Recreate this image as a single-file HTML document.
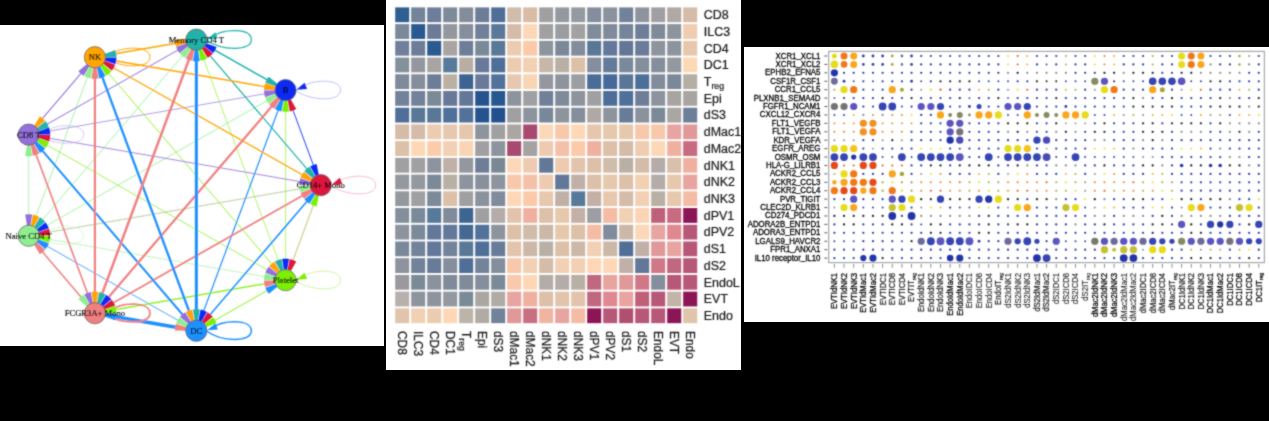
<!DOCTYPE html>
<html><head><meta charset="utf-8"><style>
html,body{margin:0;padding:0;background:#000;}
body{width:1269px;height:421px;overflow:hidden;}
svg{display:block;}
</style></head><body>
<svg width="1269" height="421" viewBox="0 0 1269 421">
<defs><filter id="soft" x="0" y="0" width="1269" height="421" filterUnits="userSpaceOnUse"><feConvolveMatrix order="3" kernelMatrix="1 2 1 2 10 2 1 2 1" divisor="22" edgeMode="none" preserveAlpha="false"/></filter></defs>
<rect width="1269" height="421" fill="#000"/>
<rect x="0" y="25" width="384" height="321" fill="#fff"/>
<rect x="386" y="0" width="355" height="370" fill="#fff"/>
<rect x="744" y="47" width="525" height="275" fill="#fff"/>
<g filter="url(#soft)">
<g stroke-linecap="butt" fill="none">
<line x1="320.8" y1="185.2" x2="28.68" y2="235.75" stroke="#dc143c" stroke-width="0.35" stroke-opacity="0.8"/>
<line x1="320.8" y1="185.2" x2="285.57" y2="280.2" stroke="#dc143c" stroke-width="0.4" stroke-opacity="0.8"/>
<line x1="285.57" y1="280.2" x2="320.8" y2="185.2" stroke="#7cf000" stroke-width="0.5" stroke-opacity="0.8"/>
<line x1="28.68" y1="235.75" x2="320.8" y2="185.2" stroke="#90ee90" stroke-width="0.6" stroke-opacity="1"/>
<line x1="28.68" y1="235.75" x2="285.57" y2="280.2" stroke="#90ee90" stroke-width="0.6" stroke-opacity="1"/>
<line x1="285.57" y1="280.2" x2="285.57" y2="90.2" stroke="#7cf000" stroke-width="0.6" stroke-opacity="1"/>
<line x1="285.57" y1="280.2" x2="196.35" y2="39.65" stroke="#7cf000" stroke-width="0.6" stroke-opacity="1"/>
<line x1="28.68" y1="134.65" x2="285.57" y2="90.2" stroke="#9370db" stroke-width="0.7" stroke-opacity="1"/>
<line x1="28.68" y1="235.75" x2="28.68" y2="134.65" stroke="#90ee90" stroke-width="0.7" stroke-opacity="1"/>
<line x1="285.57" y1="280.2" x2="28.68" y2="134.65" stroke="#7cf000" stroke-width="0.7" stroke-opacity="1"/>
<line x1="196.35" y1="330.75" x2="28.68" y2="235.75" stroke="#1e90ff" stroke-width="0.8" stroke-opacity="1"/>
<line x1="28.68" y1="235.75" x2="285.57" y2="90.2" stroke="#90ee90" stroke-width="0.8" stroke-opacity="1"/>
<line x1="28.68" y1="235.75" x2="196.35" y2="39.65" stroke="#90ee90" stroke-width="0.8" stroke-opacity="1"/>
<line x1="28.68" y1="235.75" x2="94.9" y2="57.2" stroke="#90ee90" stroke-width="0.8" stroke-opacity="1"/>
<line x1="285.57" y1="280.2" x2="94.9" y2="57.2" stroke="#7cf000" stroke-width="0.8" stroke-opacity="1"/>
<line x1="28.68" y1="134.65" x2="320.8" y2="185.2" stroke="#9370db" stroke-width="0.85" stroke-opacity="1"/>
<line x1="285.57" y1="90.2" x2="320.8" y2="185.2" stroke="#0a2cf5" stroke-width="0.9" stroke-opacity="1"/>
<line x1="285.57" y1="280.2" x2="196.35" y2="330.75" stroke="#7cf000" stroke-width="0.9" stroke-opacity="1"/>
<line x1="28.68" y1="134.65" x2="196.35" y2="39.65" stroke="#9370db" stroke-width="1.05" stroke-opacity="1"/>
<line x1="28.68" y1="134.65" x2="94.9" y2="57.2" stroke="#9370db" stroke-width="1.05" stroke-opacity="1"/>
<line x1="196.35" y1="330.75" x2="285.57" y2="90.2" stroke="#1e90ff" stroke-width="1.2" stroke-opacity="1"/>
<line x1="196.35" y1="39.65" x2="320.8" y2="185.2" stroke="#20b2aa" stroke-width="1.2" stroke-opacity="1"/>
<line x1="94.9" y1="57.2" x2="320.8" y2="185.2" stroke="#ffa500" stroke-width="1.3" stroke-opacity="1"/>
<line x1="285.57" y1="280.2" x2="94.9" y2="313.2" stroke="#7cf000" stroke-width="1.3" stroke-opacity="1"/>
<line x1="94.9" y1="57.2" x2="285.57" y2="90.2" stroke="#ffa500" stroke-width="1.4" stroke-opacity="1"/>
<line x1="196.35" y1="330.75" x2="320.8" y2="185.2" stroke="#1e90ff" stroke-width="1.5" stroke-opacity="1"/>
<line x1="94.9" y1="313.2" x2="28.68" y2="235.75" stroke="#f08080" stroke-width="1.5" stroke-opacity="1"/>
<line x1="196.35" y1="39.65" x2="285.57" y2="90.2" stroke="#20b2aa" stroke-width="1.5" stroke-opacity="1"/>
<line x1="94.9" y1="57.2" x2="196.35" y2="39.65" stroke="#ffa500" stroke-width="1.5" stroke-opacity="1"/>
<line x1="94.9" y1="313.2" x2="28.68" y2="134.65" stroke="#f08080" stroke-width="1.6" stroke-opacity="1"/>
<line x1="94.9" y1="313.2" x2="320.8" y2="185.2" stroke="#f08080" stroke-width="1.8" stroke-opacity="1"/>
<line x1="196.35" y1="330.75" x2="28.68" y2="134.65" stroke="#1e90ff" stroke-width="2" stroke-opacity="1"/>
<line x1="94.9" y1="313.2" x2="285.57" y2="90.2" stroke="#f08080" stroke-width="2.2" stroke-opacity="1"/>
<line x1="94.9" y1="313.2" x2="94.9" y2="57.2" stroke="#f08080" stroke-width="2.2" stroke-opacity="1"/>
<line x1="196.35" y1="330.75" x2="94.9" y2="57.2" stroke="#1e90ff" stroke-width="2.3" stroke-opacity="1"/>
<line x1="94.9" y1="313.2" x2="196.35" y2="39.65" stroke="#f08080" stroke-width="2.5" stroke-opacity="1"/>
<line x1="196.35" y1="330.75" x2="196.35" y2="39.65" stroke="#1e90ff" stroke-width="3" stroke-opacity="1"/>
<line x1="196.35" y1="330.75" x2="94.9" y2="313.2" stroke="#1e90ff" stroke-width="3.5" stroke-opacity="1"/>
<path d="M331.3,185.7 C345.8,196.2 375.8,197.2 375.8,185.2 C375.8,173.2 347.8,174.2 336.8,182.2" stroke="#f0a0b0" stroke-width="0.7"/>
<path d="M296.07,90.7 C310.57,101.2 340.57,102.2 340.57,90.2 C340.57,78.2 312.57,79.2 301.57,87.2" stroke="#a0a8f8" stroke-width="0.7"/>
<path d="M206.85,40.15 C221.35,50.65 251.35,51.65 251.35,39.65 C251.35,27.65 223.35,28.65 212.35,36.65" stroke="#20b2aa" stroke-width="1.2"/>
<path d="M105.4,57.7 C119.9,68.2 149.9,69.2 149.9,57.2 C149.9,45.2 121.9,46.2 110.9,54.2" stroke="#ffa500" stroke-width="1"/>
<path d="M39.18,135.15 C53.68,145.65 83.68,146.65 83.68,134.65 C83.68,122.65 55.68,123.65 44.68,131.65" stroke="#b8a8e8" stroke-width="0.6"/>
<path d="M39.18,236.25 C53.68,246.75 83.68,247.75 83.68,235.75 C83.68,223.75 55.68,224.75 44.68,232.75" stroke="#c0f0c0" stroke-width="0.6"/>
<path d="M105.4,313.7 C119.9,324.2 149.9,325.2 149.9,313.2 C149.9,301.2 121.9,302.2 110.9,310.2" stroke="#f08080" stroke-width="1.8"/>
<path d="M206.85,331.25 C221.35,341.75 251.35,342.75 251.35,330.75 C251.35,318.75 223.35,319.75 212.35,327.75" stroke="#1e90ff" stroke-width="1.5"/>
<path d="M296.07,280.7 C310.57,291.2 340.57,292.2 340.57,280.2 C340.57,268.2 312.57,269.2 301.57,277.2" stroke="#b8f080" stroke-width="0.7"/>
</g>
<polygon points="331.6,184.7 339.8,177.7 342.3,184" fill="#dc143c"/>
<polygon points="296.37,89.7 304.57,82.7 307.07,89" fill="#0a2cf5"/>
<polygon points="207.15,39.15 215.35,32.15 217.85,38.45" fill="#20b2aa"/>
<polygon points="105.7,56.7 113.9,49.7 116.4,56" fill="#ffa500"/>
<polygon points="39.48,134.15 47.68,127.15 50.18,133.45" fill="#9370db"/>
<polygon points="39.48,235.25 47.68,228.25 50.18,234.55" fill="#90ee90"/>
<polygon points="105.7,312.7 113.9,305.7 116.4,312" fill="#f08080"/>
<polygon points="207.15,330.25 215.35,323.25 217.85,329.55" fill="#1e90ff"/>
<polygon points="296.37,279.7 304.57,272.7 307.07,279" fill="#7cf000"/>
<path d="M320.8,185.2 L310.12,166.43 A21.6,21.6 0 0 1 316.66,164 Z" fill="#0a2cf5"/>
<path d="M320.8,185.2 L304.29,171.27 A21.6,21.6 0 0 1 309.6,166.73 Z" fill="#20b2aa"/>
<path d="M320.8,185.2 L300.53,177.73 A21.6,21.6 0 0 1 303.97,171.65 Z" fill="#ffa500"/>
<path d="M320.8,185.2 L299.2,185 A21.6,21.6 0 0 1 300.39,178.13 Z" fill="#9370db"/>
<path d="M320.8,185.2 L300.39,192.27 A21.6,21.6 0 0 1 299.2,185.4 Z" fill="#90ee90"/>
<path d="M320.8,185.2 L303.97,198.75 A21.6,21.6 0 0 1 300.53,192.67 Z" fill="#f08080"/>
<path d="M320.8,185.2 L309.6,203.67 A21.6,21.6 0 0 1 304.29,199.13 Z" fill="#1e90ff"/>
<path d="M320.8,185.2 L316.66,206.4 A21.6,21.6 0 0 1 310.12,203.97 Z" fill="#7cf000"/>
<path d="M285.57,90.2 L296.25,108.97 A21.6,21.6 0 0 1 289.71,111.4 Z" fill="#dc143c"/>
<path d="M285.57,90.2 L265.3,82.72 A21.6,21.6 0 0 1 268.74,76.65 Z" fill="#20b2aa"/>
<path d="M285.57,90.2 L263.97,90 A21.6,21.6 0 0 1 265.16,83.12 Z" fill="#ffa500"/>
<path d="M285.57,90.2 L265.16,97.27 A21.6,21.6 0 0 1 263.97,90.39 Z" fill="#9370db"/>
<path d="M285.57,90.2 L268.74,103.74 A21.6,21.6 0 0 1 265.3,97.67 Z" fill="#90ee90"/>
<path d="M285.57,90.2 L274.37,108.67 A21.6,21.6 0 0 1 269.06,104.13 Z" fill="#f08080"/>
<path d="M285.57,90.2 L281.43,111.4 A21.6,21.6 0 0 1 274.88,108.97 Z" fill="#1e90ff"/>
<path d="M285.57,90.2 L289.06,111.51 A21.6,21.6 0 0 1 282.08,111.51 Z" fill="#7cf000"/>
<path d="M196.35,39.65 L212.86,53.58 A21.6,21.6 0 0 1 207.55,58.12 Z" fill="#dc143c"/>
<path d="M196.35,39.65 L216.62,47.12 A21.6,21.6 0 0 1 213.18,53.19 Z" fill="#0a2cf5"/>
<path d="M196.35,39.65 L175.94,46.72 A21.6,21.6 0 0 1 174.75,39.84 Z" fill="#ffa500"/>
<path d="M196.35,39.65 L179.53,53.19 A21.6,21.6 0 0 1 176.08,47.12 Z" fill="#9370db"/>
<path d="M196.35,39.65 L185.15,58.12 A21.6,21.6 0 0 1 179.85,53.58 Z" fill="#90ee90"/>
<path d="M196.35,39.65 L192.21,60.85 A21.6,21.6 0 0 1 185.67,58.42 Z" fill="#f08080"/>
<path d="M196.35,39.65 L199.84,60.96 A21.6,21.6 0 0 1 192.86,60.96 Z" fill="#1e90ff"/>
<path d="M196.35,39.65 L207.04,58.42 A21.6,21.6 0 0 1 200.49,60.85 Z" fill="#7cf000"/>
<path d="M94.9,57.2 L115.17,64.67 A21.6,21.6 0 0 1 111.73,70.75 Z" fill="#dc143c"/>
<path d="M94.9,57.2 L116.5,57.4 A21.6,21.6 0 0 1 115.31,64.28 Z" fill="#0a2cf5"/>
<path d="M94.9,57.2 L115.31,50.13 A21.6,21.6 0 0 1 116.5,57.01 Z" fill="#20b2aa"/>
<path d="M94.9,57.2 L83.7,75.67 A21.6,21.6 0 0 1 78.39,71.13 Z" fill="#9370db"/>
<path d="M94.9,57.2 L90.76,78.4 A21.6,21.6 0 0 1 84.22,75.97 Z" fill="#90ee90"/>
<path d="M94.9,57.2 L98.39,78.52 A21.6,21.6 0 0 1 91.41,78.52 Z" fill="#f08080"/>
<path d="M94.9,57.2 L105.58,75.97 A21.6,21.6 0 0 1 99.04,78.4 Z" fill="#1e90ff"/>
<path d="M94.9,57.2 L111.41,71.13 A21.6,21.6 0 0 1 106.1,75.67 Z" fill="#7cf000"/>
<path d="M28.68,134.65 L50.28,134.84 A21.6,21.6 0 0 1 49.09,141.72 Z" fill="#dc143c"/>
<path d="M28.68,134.65 L49.09,127.58 A21.6,21.6 0 0 1 50.28,134.45 Z" fill="#0a2cf5"/>
<path d="M28.68,134.65 L45.51,121.1 A21.6,21.6 0 0 1 48.95,127.18 Z" fill="#20b2aa"/>
<path d="M28.68,134.65 L39.88,116.18 A21.6,21.6 0 0 1 45.19,120.72 Z" fill="#ffa500"/>
<path d="M28.68,134.65 L32.17,155.97 A21.6,21.6 0 0 1 25.19,155.97 Z" fill="#90ee90"/>
<path d="M28.68,134.65 L39.37,153.42 A21.6,21.6 0 0 1 32.82,155.85 Z" fill="#f08080"/>
<path d="M28.68,134.65 L45.19,148.58 A21.6,21.6 0 0 1 39.88,153.12 Z" fill="#1e90ff"/>
<path d="M28.68,134.65 L48.95,142.12 A21.6,21.6 0 0 1 45.51,148.19 Z" fill="#7cf000"/>
<path d="M28.68,235.75 L49.09,228.68 A21.6,21.6 0 0 1 50.28,235.56 Z" fill="#dc143c"/>
<path d="M28.68,235.75 L45.51,222.21 A21.6,21.6 0 0 1 48.95,228.28 Z" fill="#0a2cf5"/>
<path d="M28.68,235.75 L39.88,217.28 A21.6,21.6 0 0 1 45.19,221.82 Z" fill="#20b2aa"/>
<path d="M28.68,235.75 L32.82,214.55 A21.6,21.6 0 0 1 39.37,216.98 Z" fill="#ffa500"/>
<path d="M28.68,235.75 L25.19,214.43 A21.6,21.6 0 0 1 32.17,214.43 Z" fill="#9370db"/>
<path d="M28.68,235.75 L45.19,249.68 A21.6,21.6 0 0 1 39.88,254.22 Z" fill="#f08080"/>
<path d="M28.68,235.75 L48.95,243.22 A21.6,21.6 0 0 1 45.51,249.3 Z" fill="#1e90ff"/>
<path d="M28.68,235.75 L50.28,235.95 A21.6,21.6 0 0 1 49.09,242.82 Z" fill="#7cf000"/>
<path d="M94.9,313.2 L111.73,299.65 A21.6,21.6 0 0 1 115.17,305.73 Z" fill="#dc143c"/>
<path d="M94.9,313.2 L106.1,294.73 A21.6,21.6 0 0 1 111.41,299.27 Z" fill="#0a2cf5"/>
<path d="M94.9,313.2 L99.04,292 A21.6,21.6 0 0 1 105.58,294.43 Z" fill="#20b2aa"/>
<path d="M94.9,313.2 L91.41,291.88 A21.6,21.6 0 0 1 98.39,291.88 Z" fill="#ffa500"/>
<path d="M94.9,313.2 L84.22,294.43 A21.6,21.6 0 0 1 90.76,292 Z" fill="#9370db"/>
<path d="M94.9,313.2 L78.39,299.27 A21.6,21.6 0 0 1 83.7,294.73 Z" fill="#90ee90"/>
<path d="M94.9,313.2 L116.5,313.39 A21.6,21.6 0 0 1 115.31,320.27 Z" fill="#1e90ff"/>
<path d="M94.9,313.2 L115.31,306.12 A21.6,21.6 0 0 1 116.5,313 Z" fill="#7cf000"/>
<path d="M196.35,330.75 L207.55,312.28 A21.6,21.6 0 0 1 212.86,316.82 Z" fill="#dc143c"/>
<path d="M196.35,330.75 L200.49,309.55 A21.6,21.6 0 0 1 207.04,311.98 Z" fill="#0a2cf5"/>
<path d="M196.35,330.75 L192.86,309.44 A21.6,21.6 0 0 1 199.84,309.44 Z" fill="#20b2aa"/>
<path d="M196.35,330.75 L185.67,311.98 A21.6,21.6 0 0 1 192.21,309.55 Z" fill="#ffa500"/>
<path d="M196.35,330.75 L179.85,316.82 A21.6,21.6 0 0 1 185.15,312.28 Z" fill="#9370db"/>
<path d="M196.35,330.75 L176.08,323.28 A21.6,21.6 0 0 1 179.53,317.21 Z" fill="#90ee90"/>
<path d="M196.35,330.75 L174.75,330.56 A21.6,21.6 0 0 1 175.94,323.68 Z" fill="#f08080"/>
<path d="M196.35,330.75 L213.18,317.21 A21.6,21.6 0 0 1 216.62,323.28 Z" fill="#7cf000"/>
<path d="M285.57,280.2 L289.71,259 A21.6,21.6 0 0 1 296.25,261.43 Z" fill="#dc143c"/>
<path d="M285.57,280.2 L282.08,258.89 A21.6,21.6 0 0 1 289.06,258.89 Z" fill="#0a2cf5"/>
<path d="M285.57,280.2 L274.88,261.43 A21.6,21.6 0 0 1 281.43,259 Z" fill="#20b2aa"/>
<path d="M285.57,280.2 L269.06,266.27 A21.6,21.6 0 0 1 274.37,261.73 Z" fill="#ffa500"/>
<path d="M285.57,280.2 L265.3,272.73 A21.6,21.6 0 0 1 268.74,266.66 Z" fill="#9370db"/>
<path d="M285.57,280.2 L263.97,280.01 A21.6,21.6 0 0 1 265.16,273.13 Z" fill="#90ee90"/>
<path d="M285.57,280.2 L265.16,287.28 A21.6,21.6 0 0 1 263.97,280.4 Z" fill="#f08080"/>
<path d="M285.57,280.2 L268.74,293.75 A21.6,21.6 0 0 1 265.3,287.68 Z" fill="#1e90ff"/>
<circle cx="320.8" cy="185.2" r="10.6" fill="#dc143c" stroke="#555" stroke-width="0.7"/>
<circle cx="285.57" cy="90.2" r="10.6" fill="#0a2cf5" stroke="#555" stroke-width="0.7"/>
<circle cx="196.35" cy="39.65" r="10.6" fill="#20b2aa" stroke="#555" stroke-width="0.7"/>
<circle cx="94.9" cy="57.2" r="10.6" fill="#ffa500" stroke="#555" stroke-width="0.7"/>
<circle cx="28.68" cy="134.65" r="10.6" fill="#9370db" stroke="#555" stroke-width="0.7"/>
<circle cx="28.68" cy="235.75" r="10.6" fill="#90ee90" stroke="#555" stroke-width="0.7"/>
<circle cx="94.9" cy="313.2" r="10.6" fill="#f08080" stroke="#555" stroke-width="0.7"/>
<circle cx="196.35" cy="330.75" r="10.6" fill="#1e90ff" stroke="#555" stroke-width="0.7"/>
<circle cx="285.57" cy="280.2" r="10.6" fill="#7cf000" stroke="#555" stroke-width="0.7"/>
<text x="320.8" y="188.2" text-anchor="middle" font-family="Liberation Serif" font-size="8.6" fill="#000" stroke="#000" stroke-width="0.15">CD14+ Mono</text>
<text x="285.57" y="93.2" text-anchor="middle" font-family="Liberation Serif" font-size="8.6" fill="#000" stroke="#000" stroke-width="0.15">B</text>
<text x="196.35" y="42.65" text-anchor="middle" font-family="Liberation Serif" font-size="8.6" fill="#000" stroke="#000" stroke-width="0.15">Memory CD4 T</text>
<text x="94.9" y="60.2" text-anchor="middle" font-family="Liberation Serif" font-size="8.6" fill="#000" stroke="#000" stroke-width="0.15">NK</text>
<text x="28.68" y="137.65" text-anchor="middle" font-family="Liberation Serif" font-size="8.6" fill="#000" stroke="#000" stroke-width="0.15">CD8 T</text>
<text x="28.68" y="238.75" text-anchor="middle" font-family="Liberation Serif" font-size="8.6" fill="#000" stroke="#000" stroke-width="0.15">Naive CD4 T</text>
<text x="94.9" y="316.2" text-anchor="middle" font-family="Liberation Serif" font-size="8.6" fill="#000" stroke="#000" stroke-width="0.15">FCGR3A+ Mono</text>
<text x="196.35" y="333.75" text-anchor="middle" font-family="Liberation Serif" font-size="8.6" fill="#000" stroke="#000" stroke-width="0.15">DC</text>
<text x="285.57" y="283.2" text-anchor="middle" font-family="Liberation Serif" font-size="8.6" fill="#000" stroke="#000" stroke-width="0.15">Platelet</text>
<rect x="395.2" y="7.4" width="14" height="14.8" fill="#2f5f90"/>
<rect x="411.2" y="7.4" width="14" height="14.8" fill="#72839a"/>
<rect x="427.2" y="7.4" width="14" height="14.8" fill="#6e7e9a"/>
<rect x="443.2" y="7.4" width="14" height="14.8" fill="#7d8a9a"/>
<rect x="459.2" y="7.4" width="14" height="14.8" fill="#838c9a"/>
<rect x="475.2" y="7.4" width="14" height="14.8" fill="#6d7d98"/>
<rect x="491.2" y="7.4" width="14" height="14.8" fill="#4f6e98"/>
<rect x="507.2" y="7.4" width="14" height="14.8" fill="#d0bcaa"/>
<rect x="523.2" y="7.4" width="14" height="14.8" fill="#d8bca5"/>
<rect x="539.2" y="7.4" width="14" height="14.8" fill="#a0a0a0"/>
<rect x="555.2" y="7.4" width="14" height="14.8" fill="#9499a0"/>
<rect x="571.2" y="7.4" width="14" height="14.8" fill="#959aa2"/>
<rect x="587.2" y="7.4" width="14" height="14.8" fill="#848e9c"/>
<rect x="603.2" y="7.4" width="14" height="14.8" fill="#8a929e"/>
<rect x="619.2" y="7.4" width="14" height="14.8" fill="#72829a"/>
<rect x="635.2" y="7.4" width="14" height="14.8" fill="#8e949e"/>
<rect x="651.2" y="7.4" width="14" height="14.8" fill="#a0a0a4"/>
<rect x="667.2" y="7.4" width="14" height="14.8" fill="#b0a8a5"/>
<rect x="683.2" y="7.4" width="14" height="14.8" fill="#d4bca8"/>
<rect x="395.2" y="24.12" width="14" height="14.8" fill="#7a889a"/>
<rect x="411.2" y="24.12" width="14" height="14.8" fill="#2a5890"/>
<rect x="427.2" y="24.12" width="14" height="14.8" fill="#6c7c98"/>
<rect x="443.2" y="24.12" width="14" height="14.8" fill="#94979e"/>
<rect x="459.2" y="24.12" width="14" height="14.8" fill="#848e9c"/>
<rect x="475.2" y="24.12" width="14" height="14.8" fill="#717f98"/>
<rect x="491.2" y="24.12" width="14" height="14.8" fill="#5a7898"/>
<rect x="507.2" y="24.12" width="14" height="14.8" fill="#d4bca8"/>
<rect x="523.2" y="24.12" width="14" height="14.8" fill="#fcd8b8"/>
<rect x="539.2" y="24.12" width="14" height="14.8" fill="#a0a0a2"/>
<rect x="555.2" y="24.12" width="14" height="14.8" fill="#9a9ca0"/>
<rect x="571.2" y="24.12" width="14" height="14.8" fill="#a2a2a2"/>
<rect x="587.2" y="24.12" width="14" height="14.8" fill="#818c9a"/>
<rect x="603.2" y="24.12" width="14" height="14.8" fill="#7f8a9a"/>
<rect x="619.2" y="24.12" width="14" height="14.8" fill="#75849a"/>
<rect x="635.2" y="24.12" width="14" height="14.8" fill="#6e7e98"/>
<rect x="651.2" y="24.12" width="14" height="14.8" fill="#7f8a98"/>
<rect x="667.2" y="24.12" width="14" height="14.8" fill="#8e949e"/>
<rect x="683.2" y="24.12" width="14" height="14.8" fill="#f0cdb0"/>
<rect x="395.2" y="40.84" width="14" height="14.8" fill="#70809a"/>
<rect x="411.2" y="40.84" width="14" height="14.8" fill="#6d7d98"/>
<rect x="427.2" y="40.84" width="14" height="14.8" fill="#2a5a8f"/>
<rect x="443.2" y="40.84" width="14" height="14.8" fill="#a8a4a2"/>
<rect x="459.2" y="40.84" width="14" height="14.8" fill="#6e7e9a"/>
<rect x="475.2" y="40.84" width="14" height="14.8" fill="#7a8a96"/>
<rect x="491.2" y="40.84" width="14" height="14.8" fill="#5a7898"/>
<rect x="507.2" y="40.84" width="14" height="14.8" fill="#ecccb0"/>
<rect x="523.2" y="40.84" width="14" height="14.8" fill="#fccaa8"/>
<rect x="539.2" y="40.84" width="14" height="14.8" fill="#8c949e"/>
<rect x="555.2" y="40.84" width="14" height="14.8" fill="#7a889a"/>
<rect x="571.2" y="40.84" width="14" height="14.8" fill="#838d9b"/>
<rect x="587.2" y="40.84" width="14" height="14.8" fill="#587896"/>
<rect x="603.2" y="40.84" width="14" height="14.8" fill="#63789a"/>
<rect x="619.2" y="40.84" width="14" height="14.8" fill="#637696"/>
<rect x="635.2" y="40.84" width="14" height="14.8" fill="#6a7b98"/>
<rect x="651.2" y="40.84" width="14" height="14.8" fill="#8e949e"/>
<rect x="667.2" y="40.84" width="14" height="14.8" fill="#8e949e"/>
<rect x="683.2" y="40.84" width="14" height="14.8" fill="#e8c8ac"/>
<rect x="395.2" y="57.56" width="14" height="14.8" fill="#84909c"/>
<rect x="411.2" y="57.56" width="14" height="14.8" fill="#94979f"/>
<rect x="427.2" y="57.56" width="14" height="14.8" fill="#a8a4a2"/>
<rect x="443.2" y="57.56" width="14" height="14.8" fill="#587a9a"/>
<rect x="459.2" y="57.56" width="14" height="14.8" fill="#b8aea4"/>
<rect x="475.2" y="57.56" width="14" height="14.8" fill="#67799a"/>
<rect x="491.2" y="57.56" width="14" height="14.8" fill="#4f6e98"/>
<rect x="507.2" y="57.56" width="14" height="14.8" fill="#ecccb0"/>
<rect x="523.2" y="57.56" width="14" height="14.8" fill="#f2d0b4"/>
<rect x="539.2" y="57.56" width="14" height="14.8" fill="#c8b6a8"/>
<rect x="555.2" y="57.56" width="14" height="14.8" fill="#b8b0a5"/>
<rect x="571.2" y="57.56" width="14" height="14.8" fill="#dcc0a8"/>
<rect x="587.2" y="57.56" width="14" height="14.8" fill="#848e9c"/>
<rect x="603.2" y="57.56" width="14" height="14.8" fill="#637a98"/>
<rect x="619.2" y="57.56" width="14" height="14.8" fill="#79889a"/>
<rect x="635.2" y="57.56" width="14" height="14.8" fill="#848e9c"/>
<rect x="651.2" y="57.56" width="14" height="14.8" fill="#848e9c"/>
<rect x="667.2" y="57.56" width="14" height="14.8" fill="#94989f"/>
<rect x="683.2" y="57.56" width="14" height="14.8" fill="#fdd8b5"/>
<rect x="395.2" y="74.28" width="14" height="14.8" fill="#7f8a9a"/>
<rect x="411.2" y="74.28" width="14" height="14.8" fill="#858e9b"/>
<rect x="427.2" y="74.28" width="14" height="14.8" fill="#6d7d98"/>
<rect x="443.2" y="74.28" width="14" height="14.8" fill="#bcb0a5"/>
<rect x="459.2" y="74.28" width="14" height="14.8" fill="#3c6492"/>
<rect x="475.2" y="74.28" width="14" height="14.8" fill="#6a7a98"/>
<rect x="491.2" y="74.28" width="14" height="14.8" fill="#52729a"/>
<rect x="507.2" y="74.28" width="14" height="14.8" fill="#e6c8b0"/>
<rect x="523.2" y="74.28" width="14" height="14.8" fill="#f8d5b5"/>
<rect x="539.2" y="74.28" width="14" height="14.8" fill="#9497a0"/>
<rect x="555.2" y="74.28" width="14" height="14.8" fill="#8e949e"/>
<rect x="571.2" y="74.28" width="14" height="14.8" fill="#9c9ea2"/>
<rect x="587.2" y="74.28" width="14" height="14.8" fill="#4c6c96"/>
<rect x="603.2" y="74.28" width="14" height="14.8" fill="#46699a"/>
<rect x="619.2" y="74.28" width="14" height="14.8" fill="#5a7696"/>
<rect x="635.2" y="74.28" width="14" height="14.8" fill="#4e6e98"/>
<rect x="651.2" y="74.28" width="14" height="14.8" fill="#828c9a"/>
<rect x="667.2" y="74.28" width="14" height="14.8" fill="#7a889a"/>
<rect x="683.2" y="74.28" width="14" height="14.8" fill="#b5aea4"/>
<rect x="395.2" y="91" width="14" height="14.8" fill="#72829a"/>
<rect x="411.2" y="91" width="14" height="14.8" fill="#72829a"/>
<rect x="427.2" y="91" width="14" height="14.8" fill="#7a8a96"/>
<rect x="443.2" y="91" width="14" height="14.8" fill="#677898"/>
<rect x="459.2" y="91" width="14" height="14.8" fill="#647898"/>
<rect x="475.2" y="91" width="14" height="14.8" fill="#25528e"/>
<rect x="491.2" y="91" width="14" height="14.8" fill="#285890"/>
<rect x="507.2" y="91" width="14" height="14.8" fill="#8e949e"/>
<rect x="523.2" y="91" width="14" height="14.8" fill="#a0a0a2"/>
<rect x="539.2" y="91" width="14" height="14.8" fill="#717f98"/>
<rect x="555.2" y="91" width="14" height="14.8" fill="#808a9a"/>
<rect x="571.2" y="91" width="14" height="14.8" fill="#8e949e"/>
<rect x="587.2" y="91" width="14" height="14.8" fill="#a0a0a2"/>
<rect x="603.2" y="91" width="14" height="14.8" fill="#4e6e98"/>
<rect x="619.2" y="91" width="14" height="14.8" fill="#50709a"/>
<rect x="635.2" y="91" width="14" height="14.8" fill="#6e7e98"/>
<rect x="651.2" y="91" width="14" height="14.8" fill="#8e949e"/>
<rect x="667.2" y="91" width="14" height="14.8" fill="#a8a4a2"/>
<rect x="683.2" y="91" width="14" height="14.8" fill="#a8a4a2"/>
<rect x="395.2" y="107.72" width="14" height="14.8" fill="#4f6e98"/>
<rect x="411.2" y="107.72" width="14" height="14.8" fill="#587896"/>
<rect x="427.2" y="107.72" width="14" height="14.8" fill="#587896"/>
<rect x="443.2" y="107.72" width="14" height="14.8" fill="#50709a"/>
<rect x="459.2" y="107.72" width="14" height="14.8" fill="#52729a"/>
<rect x="475.2" y="107.72" width="14" height="14.8" fill="#25528e"/>
<rect x="491.2" y="107.72" width="14" height="14.8" fill="#23508e"/>
<rect x="507.2" y="107.72" width="14" height="14.8" fill="#a0a0a2"/>
<rect x="523.2" y="107.72" width="14" height="14.8" fill="#8e949e"/>
<rect x="539.2" y="107.72" width="14" height="14.8" fill="#76889a"/>
<rect x="555.2" y="107.72" width="14" height="14.8" fill="#8e949e"/>
<rect x="571.2" y="107.72" width="14" height="14.8" fill="#848e9c"/>
<rect x="587.2" y="107.72" width="14" height="14.8" fill="#b0a8a5"/>
<rect x="603.2" y="107.72" width="14" height="14.8" fill="#8e949e"/>
<rect x="619.2" y="107.72" width="14" height="14.8" fill="#687c9a"/>
<rect x="635.2" y="107.72" width="14" height="14.8" fill="#8a929e"/>
<rect x="651.2" y="107.72" width="14" height="14.8" fill="#7a8a98"/>
<rect x="667.2" y="107.72" width="14" height="14.8" fill="#aaa6a2"/>
<rect x="683.2" y="107.72" width="14" height="14.8" fill="#6d7e98"/>
<rect x="395.2" y="124.44" width="14" height="14.8" fill="#d4bca8"/>
<rect x="411.2" y="124.44" width="14" height="14.8" fill="#d4bca8"/>
<rect x="427.2" y="124.44" width="14" height="14.8" fill="#ecccb0"/>
<rect x="443.2" y="124.44" width="14" height="14.8" fill="#e6c8b0"/>
<rect x="459.2" y="124.44" width="14" height="14.8" fill="#e6c6ac"/>
<rect x="475.2" y="124.44" width="14" height="14.8" fill="#8e949e"/>
<rect x="491.2" y="124.44" width="14" height="14.8" fill="#a0a0a2"/>
<rect x="507.2" y="124.44" width="14" height="14.8" fill="#aaa6a2"/>
<rect x="523.2" y="124.44" width="14" height="14.8" fill="#a84a70"/>
<rect x="539.2" y="124.44" width="14" height="14.8" fill="#fcd8b8"/>
<rect x="555.2" y="124.44" width="14" height="14.8" fill="#f8c8aa"/>
<rect x="571.2" y="124.44" width="14" height="14.8" fill="#fed8b6"/>
<rect x="587.2" y="124.44" width="14" height="14.8" fill="#e6c6ac"/>
<rect x="603.2" y="124.44" width="14" height="14.8" fill="#e6c8ac"/>
<rect x="619.2" y="124.44" width="14" height="14.8" fill="#e6c8ac"/>
<rect x="635.2" y="124.44" width="14" height="14.8" fill="#f8c8aa"/>
<rect x="651.2" y="124.44" width="14" height="14.8" fill="#f8c8aa"/>
<rect x="667.2" y="124.44" width="14" height="14.8" fill="#e8a4a2"/>
<rect x="683.2" y="124.44" width="14" height="14.8" fill="#e09898"/>
<rect x="395.2" y="141.16" width="14" height="14.8" fill="#dcc0a8"/>
<rect x="411.2" y="141.16" width="14" height="14.8" fill="#fed8b6"/>
<rect x="427.2" y="141.16" width="14" height="14.8" fill="#fcccaa"/>
<rect x="443.2" y="141.16" width="14" height="14.8" fill="#f2d0b4"/>
<rect x="459.2" y="141.16" width="14" height="14.8" fill="#fad4b4"/>
<rect x="475.2" y="141.16" width="14" height="14.8" fill="#a0a0a2"/>
<rect x="491.2" y="141.16" width="14" height="14.8" fill="#8e949e"/>
<rect x="507.2" y="141.16" width="14" height="14.8" fill="#a84a70"/>
<rect x="523.2" y="141.16" width="14" height="14.8" fill="#a4a2a2"/>
<rect x="539.2" y="141.16" width="14" height="14.8" fill="#eecbb0"/>
<rect x="555.2" y="141.16" width="14" height="14.8" fill="#f4c0a8"/>
<rect x="571.2" y="141.16" width="14" height="14.8" fill="#fccaa8"/>
<rect x="587.2" y="141.16" width="14" height="14.8" fill="#f0b0a0"/>
<rect x="603.2" y="141.16" width="14" height="14.8" fill="#dcc0a8"/>
<rect x="619.2" y="141.16" width="14" height="14.8" fill="#d4bca8"/>
<rect x="635.2" y="141.16" width="14" height="14.8" fill="#f0ccb0"/>
<rect x="651.2" y="141.16" width="14" height="14.8" fill="#fcd8b8"/>
<rect x="667.2" y="141.16" width="14" height="14.8" fill="#f0b0a0"/>
<rect x="683.2" y="141.16" width="14" height="14.8" fill="#c86a80"/>
<rect x="395.2" y="157.88" width="14" height="14.8" fill="#a0a0a2"/>
<rect x="411.2" y="157.88" width="14" height="14.8" fill="#a0a0a2"/>
<rect x="427.2" y="157.88" width="14" height="14.8" fill="#8e949e"/>
<rect x="443.2" y="157.88" width="14" height="14.8" fill="#c0b0a8"/>
<rect x="459.2" y="157.88" width="14" height="14.8" fill="#94979f"/>
<rect x="475.2" y="157.88" width="14" height="14.8" fill="#6e7e98"/>
<rect x="491.2" y="157.88" width="14" height="14.8" fill="#7a8896"/>
<rect x="507.2" y="157.88" width="14" height="14.8" fill="#fcd8b8"/>
<rect x="523.2" y="157.88" width="14" height="14.8" fill="#eecbb0"/>
<rect x="539.2" y="157.88" width="14" height="14.8" fill="#647898"/>
<rect x="555.2" y="157.88" width="14" height="14.8" fill="#eecbb0"/>
<rect x="571.2" y="157.88" width="14" height="14.8" fill="#e2c4ac"/>
<rect x="587.2" y="157.88" width="14" height="14.8" fill="#dcc0a8"/>
<rect x="603.2" y="157.88" width="14" height="14.8" fill="#d0bcaa"/>
<rect x="619.2" y="157.88" width="14" height="14.8" fill="#b8b0a5"/>
<rect x="635.2" y="157.88" width="14" height="14.8" fill="#d4bca8"/>
<rect x="651.2" y="157.88" width="14" height="14.8" fill="#b4aca8"/>
<rect x="667.2" y="157.88" width="14" height="14.8" fill="#d8c0aa"/>
<rect x="683.2" y="157.88" width="14" height="14.8" fill="#f0b0a0"/>
<rect x="395.2" y="174.6" width="14" height="14.8" fill="#94989f"/>
<rect x="411.2" y="174.6" width="14" height="14.8" fill="#94989f"/>
<rect x="427.2" y="174.6" width="14" height="14.8" fill="#7a8a98"/>
<rect x="443.2" y="174.6" width="14" height="14.8" fill="#b8b0a5"/>
<rect x="459.2" y="174.6" width="14" height="14.8" fill="#8e949e"/>
<rect x="475.2" y="174.6" width="14" height="14.8" fill="#88909c"/>
<rect x="491.2" y="174.6" width="14" height="14.8" fill="#8e949e"/>
<rect x="507.2" y="174.6" width="14" height="14.8" fill="#f8c8aa"/>
<rect x="523.2" y="174.6" width="14" height="14.8" fill="#f4c0a8"/>
<rect x="539.2" y="174.6" width="14" height="14.8" fill="#eecbb0"/>
<rect x="555.2" y="174.6" width="14" height="14.8" fill="#647898"/>
<rect x="571.2" y="174.6" width="14" height="14.8" fill="#c0b0a8"/>
<rect x="587.2" y="174.6" width="14" height="14.8" fill="#dcc0a8"/>
<rect x="603.2" y="174.6" width="14" height="14.8" fill="#e6c8ac"/>
<rect x="619.2" y="174.6" width="14" height="14.8" fill="#dcc0a8"/>
<rect x="635.2" y="174.6" width="14" height="14.8" fill="#f2d0b4"/>
<rect x="651.2" y="174.6" width="14" height="14.8" fill="#b4aca8"/>
<rect x="667.2" y="174.6" width="14" height="14.8" fill="#e6c8ac"/>
<rect x="683.2" y="174.6" width="14" height="14.8" fill="#e8a4a0"/>
<rect x="395.2" y="191.32" width="14" height="14.8" fill="#94989f"/>
<rect x="411.2" y="191.32" width="14" height="14.8" fill="#a0a0a2"/>
<rect x="427.2" y="191.32" width="14" height="14.8" fill="#7d8a9a"/>
<rect x="443.2" y="191.32" width="14" height="14.8" fill="#dcc0a8"/>
<rect x="459.2" y="191.32" width="14" height="14.8" fill="#a0a0a2"/>
<rect x="475.2" y="191.32" width="14" height="14.8" fill="#8a929e"/>
<rect x="491.2" y="191.32" width="14" height="14.8" fill="#808c9c"/>
<rect x="507.2" y="191.32" width="14" height="14.8" fill="#fed8b6"/>
<rect x="523.2" y="191.32" width="14" height="14.8" fill="#fccaa8"/>
<rect x="539.2" y="191.32" width="14" height="14.8" fill="#e6c8ac"/>
<rect x="555.2" y="191.32" width="14" height="14.8" fill="#c0b0a8"/>
<rect x="571.2" y="191.32" width="14" height="14.8" fill="#587a9a"/>
<rect x="587.2" y="191.32" width="14" height="14.8" fill="#c4b0a5"/>
<rect x="603.2" y="191.32" width="14" height="14.8" fill="#e6c8ac"/>
<rect x="619.2" y="191.32" width="14" height="14.8" fill="#d4bca8"/>
<rect x="635.2" y="191.32" width="14" height="14.8" fill="#f2d0b4"/>
<rect x="651.2" y="191.32" width="14" height="14.8" fill="#b8b0a5"/>
<rect x="667.2" y="191.32" width="14" height="14.8" fill="#e6c8ac"/>
<rect x="683.2" y="191.32" width="14" height="14.8" fill="#f4bca5"/>
<rect x="395.2" y="208.04" width="14" height="14.8" fill="#848e9c"/>
<rect x="411.2" y="208.04" width="14" height="14.8" fill="#7a8a98"/>
<rect x="427.2" y="208.04" width="14" height="14.8" fill="#587a9a"/>
<rect x="443.2" y="208.04" width="14" height="14.8" fill="#7f8a9a"/>
<rect x="459.2" y="208.04" width="14" height="14.8" fill="#3d6592"/>
<rect x="475.2" y="208.04" width="14" height="14.8" fill="#a0a0a2"/>
<rect x="491.2" y="208.04" width="14" height="14.8" fill="#b4aca8"/>
<rect x="507.2" y="208.04" width="14" height="14.8" fill="#e2c4ac"/>
<rect x="523.2" y="208.04" width="14" height="14.8" fill="#f0b0a0"/>
<rect x="539.2" y="208.04" width="14" height="14.8" fill="#dcc0a8"/>
<rect x="555.2" y="208.04" width="14" height="14.8" fill="#e6c8ac"/>
<rect x="571.2" y="208.04" width="14" height="14.8" fill="#c4b0a5"/>
<rect x="587.2" y="208.04" width="14" height="14.8" fill="#9c9ea2"/>
<rect x="603.2" y="208.04" width="14" height="14.8" fill="#f4bca5"/>
<rect x="619.2" y="208.04" width="14" height="14.8" fill="#f2d0b4"/>
<rect x="635.2" y="208.04" width="14" height="14.8" fill="#fad4b4"/>
<rect x="651.2" y="208.04" width="14" height="14.8" fill="#c06078"/>
<rect x="667.2" y="208.04" width="14" height="14.8" fill="#c86a80"/>
<rect x="683.2" y="208.04" width="14" height="14.8" fill="#8c1455"/>
<rect x="395.2" y="224.76" width="14" height="14.8" fill="#8e949e"/>
<rect x="411.2" y="224.76" width="14" height="14.8" fill="#7a8a98"/>
<rect x="427.2" y="224.76" width="14" height="14.8" fill="#63789a"/>
<rect x="443.2" y="224.76" width="14" height="14.8" fill="#63789a"/>
<rect x="459.2" y="224.76" width="14" height="14.8" fill="#446892"/>
<rect x="475.2" y="224.76" width="14" height="14.8" fill="#52729a"/>
<rect x="491.2" y="224.76" width="14" height="14.8" fill="#8e949e"/>
<rect x="507.2" y="224.76" width="14" height="14.8" fill="#dcc0a8"/>
<rect x="523.2" y="224.76" width="14" height="14.8" fill="#d0bcaa"/>
<rect x="539.2" y="224.76" width="14" height="14.8" fill="#ccb8a8"/>
<rect x="555.2" y="224.76" width="14" height="14.8" fill="#e6c8ac"/>
<rect x="571.2" y="224.76" width="14" height="14.8" fill="#dcc0a8"/>
<rect x="587.2" y="224.76" width="14" height="14.8" fill="#f4bca5"/>
<rect x="603.2" y="224.76" width="14" height="14.8" fill="#808c9c"/>
<rect x="619.2" y="224.76" width="14" height="14.8" fill="#ccb8a8"/>
<rect x="635.2" y="224.76" width="14" height="14.8" fill="#fcd8b8"/>
<rect x="651.2" y="224.76" width="14" height="14.8" fill="#e8a4a0"/>
<rect x="667.2" y="224.76" width="14" height="14.8" fill="#e08890"/>
<rect x="683.2" y="224.76" width="14" height="14.8" fill="#b85878"/>
<rect x="395.2" y="241.48" width="14" height="14.8" fill="#7a889a"/>
<rect x="411.2" y="241.48" width="14" height="14.8" fill="#73839a"/>
<rect x="427.2" y="241.48" width="14" height="14.8" fill="#63789a"/>
<rect x="443.2" y="241.48" width="14" height="14.8" fill="#73839a"/>
<rect x="459.2" y="241.48" width="14" height="14.8" fill="#587896"/>
<rect x="475.2" y="241.48" width="14" height="14.8" fill="#4f6e98"/>
<rect x="491.2" y="241.48" width="14" height="14.8" fill="#687c9a"/>
<rect x="507.2" y="241.48" width="14" height="14.8" fill="#e2c4ac"/>
<rect x="523.2" y="241.48" width="14" height="14.8" fill="#ccb8a8"/>
<rect x="539.2" y="241.48" width="14" height="14.8" fill="#b8b0a5"/>
<rect x="555.2" y="241.48" width="14" height="14.8" fill="#dcc0a8"/>
<rect x="571.2" y="241.48" width="14" height="14.8" fill="#ccb8a8"/>
<rect x="587.2" y="241.48" width="14" height="14.8" fill="#f2d0b4"/>
<rect x="603.2" y="241.48" width="14" height="14.8" fill="#ccb8a8"/>
<rect x="619.2" y="241.48" width="14" height="14.8" fill="#4f6e98"/>
<rect x="635.2" y="241.48" width="14" height="14.8" fill="#c0b0a8"/>
<rect x="651.2" y="241.48" width="14" height="14.8" fill="#e09898"/>
<rect x="667.2" y="241.48" width="14" height="14.8" fill="#e8a4a0"/>
<rect x="683.2" y="241.48" width="14" height="14.8" fill="#b85878"/>
<rect x="395.2" y="258.2" width="14" height="14.8" fill="#8e949e"/>
<rect x="411.2" y="258.2" width="14" height="14.8" fill="#72829a"/>
<rect x="427.2" y="258.2" width="14" height="14.8" fill="#687c9a"/>
<rect x="443.2" y="258.2" width="14" height="14.8" fill="#848e9c"/>
<rect x="459.2" y="258.2" width="14" height="14.8" fill="#4f6e98"/>
<rect x="475.2" y="258.2" width="14" height="14.8" fill="#73839a"/>
<rect x="491.2" y="258.2" width="14" height="14.8" fill="#848e9c"/>
<rect x="507.2" y="258.2" width="14" height="14.8" fill="#f8c8aa"/>
<rect x="523.2" y="258.2" width="14" height="14.8" fill="#f2d0b4"/>
<rect x="539.2" y="258.2" width="14" height="14.8" fill="#d4bca8"/>
<rect x="555.2" y="258.2" width="14" height="14.8" fill="#f2d0b4"/>
<rect x="571.2" y="258.2" width="14" height="14.8" fill="#f2d0b4"/>
<rect x="587.2" y="258.2" width="14" height="14.8" fill="#fed8b6"/>
<rect x="603.2" y="258.2" width="14" height="14.8" fill="#fed8b6"/>
<rect x="619.2" y="258.2" width="14" height="14.8" fill="#c0b0a8"/>
<rect x="635.2" y="258.2" width="14" height="14.8" fill="#647898"/>
<rect x="651.2" y="258.2" width="14" height="14.8" fill="#d07888"/>
<rect x="667.2" y="258.2" width="14" height="14.8" fill="#c06880"/>
<rect x="683.2" y="258.2" width="14" height="14.8" fill="#b85878"/>
<rect x="395.2" y="274.92" width="14" height="14.8" fill="#9a9a9e"/>
<rect x="411.2" y="274.92" width="14" height="14.8" fill="#7a8a98"/>
<rect x="427.2" y="274.92" width="14" height="14.8" fill="#8a929e"/>
<rect x="443.2" y="274.92" width="14" height="14.8" fill="#7f8a9a"/>
<rect x="459.2" y="274.92" width="14" height="14.8" fill="#7f8a9a"/>
<rect x="475.2" y="274.92" width="14" height="14.8" fill="#848e9c"/>
<rect x="491.2" y="274.92" width="14" height="14.8" fill="#7a8a98"/>
<rect x="507.2" y="274.92" width="14" height="14.8" fill="#fac8aa"/>
<rect x="523.2" y="274.92" width="14" height="14.8" fill="#fed8b6"/>
<rect x="539.2" y="274.92" width="14" height="14.8" fill="#b4aca8"/>
<rect x="555.2" y="274.92" width="14" height="14.8" fill="#b4aca8"/>
<rect x="571.2" y="274.92" width="14" height="14.8" fill="#b8b0a5"/>
<rect x="587.2" y="274.92" width="14" height="14.8" fill="#c06880"/>
<rect x="603.2" y="274.92" width="14" height="14.8" fill="#e8a4a0"/>
<rect x="619.2" y="274.92" width="14" height="14.8" fill="#e09898"/>
<rect x="635.2" y="274.92" width="14" height="14.8" fill="#d07888"/>
<rect x="651.2" y="274.92" width="14" height="14.8" fill="#848e9c"/>
<rect x="667.2" y="274.92" width="14" height="14.8" fill="#b85878"/>
<rect x="683.2" y="274.92" width="14" height="14.8" fill="#b85878"/>
<rect x="395.2" y="291.64" width="14" height="14.8" fill="#b8b0ac"/>
<rect x="411.2" y="291.64" width="14" height="14.8" fill="#8e949e"/>
<rect x="427.2" y="291.64" width="14" height="14.8" fill="#8e949e"/>
<rect x="443.2" y="291.64" width="14" height="14.8" fill="#94989f"/>
<rect x="459.2" y="291.64" width="14" height="14.8" fill="#7a8a98"/>
<rect x="475.2" y="291.64" width="14" height="14.8" fill="#aaa6a2"/>
<rect x="491.2" y="291.64" width="14" height="14.8" fill="#b0aca5"/>
<rect x="507.2" y="291.64" width="14" height="14.8" fill="#e8a4a0"/>
<rect x="523.2" y="291.64" width="14" height="14.8" fill="#f0b0a0"/>
<rect x="539.2" y="291.64" width="14" height="14.8" fill="#dcc0a8"/>
<rect x="555.2" y="291.64" width="14" height="14.8" fill="#e2c4ac"/>
<rect x="571.2" y="291.64" width="14" height="14.8" fill="#e2c4ac"/>
<rect x="587.2" y="291.64" width="14" height="14.8" fill="#c06880"/>
<rect x="603.2" y="291.64" width="14" height="14.8" fill="#e08890"/>
<rect x="619.2" y="291.64" width="14" height="14.8" fill="#e8a4a0"/>
<rect x="635.2" y="291.64" width="14" height="14.8" fill="#c06078"/>
<rect x="651.2" y="291.64" width="14" height="14.8" fill="#b85878"/>
<rect x="667.2" y="291.64" width="14" height="14.8" fill="#c4b4a8"/>
<rect x="683.2" y="291.64" width="14" height="14.8" fill="#8c1455"/>
<rect x="395.2" y="308.36" width="14" height="14.8" fill="#e0c4ac"/>
<rect x="411.2" y="308.36" width="14" height="14.8" fill="#f2d0b4"/>
<rect x="427.2" y="308.36" width="14" height="14.8" fill="#ecccb0"/>
<rect x="443.2" y="308.36" width="14" height="14.8" fill="#fed8b6"/>
<rect x="459.2" y="308.36" width="14" height="14.8" fill="#bcb4a8"/>
<rect x="475.2" y="308.36" width="14" height="14.8" fill="#b0aca5"/>
<rect x="491.2" y="308.36" width="14" height="14.8" fill="#72829a"/>
<rect x="507.2" y="308.36" width="14" height="14.8" fill="#e09898"/>
<rect x="523.2" y="308.36" width="14" height="14.8" fill="#c87080"/>
<rect x="539.2" y="308.36" width="14" height="14.8" fill="#f0b4a0"/>
<rect x="555.2" y="308.36" width="14" height="14.8" fill="#e8a4a0"/>
<rect x="571.2" y="308.36" width="14" height="14.8" fill="#f4bca5"/>
<rect x="587.2" y="308.36" width="14" height="14.8" fill="#8c1455"/>
<rect x="603.2" y="308.36" width="14" height="14.8" fill="#b85878"/>
<rect x="619.2" y="308.36" width="14" height="14.8" fill="#b05070"/>
<rect x="635.2" y="308.36" width="14" height="14.8" fill="#b85878"/>
<rect x="651.2" y="308.36" width="14" height="14.8" fill="#b85878"/>
<rect x="667.2" y="308.36" width="14" height="14.8" fill="#8c1455"/>
<rect x="683.2" y="308.36" width="14" height="14.8" fill="#e0c4ac"/>
<text x="703.8" y="19.08" font-family="Liberation Sans" font-size="12.45" fill="#1a1a1a" stroke="#1a1a1a" stroke-width="0.22">CD8</text>
<text x="703.8" y="35.8" font-family="Liberation Sans" font-size="12.45" fill="#1a1a1a" stroke="#1a1a1a" stroke-width="0.22">ILC3</text>
<text x="703.8" y="52.52" font-family="Liberation Sans" font-size="12.45" fill="#1a1a1a" stroke="#1a1a1a" stroke-width="0.22">CD4</text>
<text x="703.8" y="69.24" font-family="Liberation Sans" font-size="12.45" fill="#1a1a1a" stroke="#1a1a1a" stroke-width="0.22">DC1</text>
<text x="703.8" y="85.96" font-family="Liberation Sans" font-size="12.45" fill="#1a1a1a" stroke="#1a1a1a" stroke-width="0.22">T<tspan font-size="8.8" dy="3.2">reg</tspan></text>
<text x="703.8" y="102.68" font-family="Liberation Sans" font-size="12.45" fill="#1a1a1a" stroke="#1a1a1a" stroke-width="0.22">Epi</text>
<text x="703.8" y="119.4" font-family="Liberation Sans" font-size="12.45" fill="#1a1a1a" stroke="#1a1a1a" stroke-width="0.22">dS3</text>
<text x="703.8" y="136.12" font-family="Liberation Sans" font-size="12.45" fill="#1a1a1a" stroke="#1a1a1a" stroke-width="0.22">dMac1</text>
<text x="703.8" y="152.84" font-family="Liberation Sans" font-size="12.45" fill="#1a1a1a" stroke="#1a1a1a" stroke-width="0.22">dMac2</text>
<text x="703.8" y="169.56" font-family="Liberation Sans" font-size="12.45" fill="#1a1a1a" stroke="#1a1a1a" stroke-width="0.22">dNK1</text>
<text x="703.8" y="186.28" font-family="Liberation Sans" font-size="12.45" fill="#1a1a1a" stroke="#1a1a1a" stroke-width="0.22">dNK2</text>
<text x="703.8" y="203" font-family="Liberation Sans" font-size="12.45" fill="#1a1a1a" stroke="#1a1a1a" stroke-width="0.22">dNK3</text>
<text x="703.8" y="219.72" font-family="Liberation Sans" font-size="12.45" fill="#1a1a1a" stroke="#1a1a1a" stroke-width="0.22">dPV1</text>
<text x="703.8" y="236.44" font-family="Liberation Sans" font-size="12.45" fill="#1a1a1a" stroke="#1a1a1a" stroke-width="0.22">dPV2</text>
<text x="703.8" y="253.16" font-family="Liberation Sans" font-size="12.45" fill="#1a1a1a" stroke="#1a1a1a" stroke-width="0.22">dS1</text>
<text x="703.8" y="269.88" font-family="Liberation Sans" font-size="12.45" fill="#1a1a1a" stroke="#1a1a1a" stroke-width="0.22">dS2</text>
<text x="703.8" y="286.6" font-family="Liberation Sans" font-size="12.45" fill="#1a1a1a" stroke="#1a1a1a" stroke-width="0.22">EndoL</text>
<text x="703.8" y="303.32" font-family="Liberation Sans" font-size="12.45" fill="#1a1a1a" stroke="#1a1a1a" stroke-width="0.22">EVT</text>
<text x="703.8" y="320.04" font-family="Liberation Sans" font-size="12.45" fill="#1a1a1a" stroke="#1a1a1a" stroke-width="0.22">Endo</text>
<text transform="translate(397.92,331) rotate(90)" font-family="Liberation Sans" font-size="11.9" fill="#1a1a1a" stroke="#1a1a1a" stroke-width="0.22">CD8</text>
<text transform="translate(413.92,331) rotate(90)" font-family="Liberation Sans" font-size="11.9" fill="#1a1a1a" stroke="#1a1a1a" stroke-width="0.22">ILC3</text>
<text transform="translate(429.92,331) rotate(90)" font-family="Liberation Sans" font-size="11.9" fill="#1a1a1a" stroke="#1a1a1a" stroke-width="0.22">CD4</text>
<text transform="translate(445.92,331) rotate(90)" font-family="Liberation Sans" font-size="11.9" fill="#1a1a1a" stroke="#1a1a1a" stroke-width="0.22">DC1</text>
<text transform="translate(461.92,331) rotate(90)" font-family="Liberation Sans" font-size="11.9" fill="#1a1a1a" stroke="#1a1a1a" stroke-width="0.22">T<tspan font-size="8.8" dy="3.2">reg</tspan></text>
<text transform="translate(477.92,331) rotate(90)" font-family="Liberation Sans" font-size="11.9" fill="#1a1a1a" stroke="#1a1a1a" stroke-width="0.22">Epi</text>
<text transform="translate(493.92,331) rotate(90)" font-family="Liberation Sans" font-size="11.9" fill="#1a1a1a" stroke="#1a1a1a" stroke-width="0.22">dS3</text>
<text transform="translate(509.92,331) rotate(90)" font-family="Liberation Sans" font-size="11.9" fill="#1a1a1a" stroke="#1a1a1a" stroke-width="0.22">dMac1</text>
<text transform="translate(525.92,331) rotate(90)" font-family="Liberation Sans" font-size="11.9" fill="#1a1a1a" stroke="#1a1a1a" stroke-width="0.22">dMac2</text>
<text transform="translate(541.92,331) rotate(90)" font-family="Liberation Sans" font-size="11.9" fill="#1a1a1a" stroke="#1a1a1a" stroke-width="0.22">dNK1</text>
<text transform="translate(557.92,331) rotate(90)" font-family="Liberation Sans" font-size="11.9" fill="#1a1a1a" stroke="#1a1a1a" stroke-width="0.22">dNK2</text>
<text transform="translate(573.92,331) rotate(90)" font-family="Liberation Sans" font-size="11.9" fill="#1a1a1a" stroke="#1a1a1a" stroke-width="0.22">dNK3</text>
<text transform="translate(589.92,331) rotate(90)" font-family="Liberation Sans" font-size="11.9" fill="#1a1a1a" stroke="#1a1a1a" stroke-width="0.22">dPV1</text>
<text transform="translate(605.92,331) rotate(90)" font-family="Liberation Sans" font-size="11.9" fill="#1a1a1a" stroke="#1a1a1a" stroke-width="0.22">dPV2</text>
<text transform="translate(621.92,331) rotate(90)" font-family="Liberation Sans" font-size="11.9" fill="#1a1a1a" stroke="#1a1a1a" stroke-width="0.22">dS1</text>
<text transform="translate(637.92,331) rotate(90)" font-family="Liberation Sans" font-size="11.9" fill="#1a1a1a" stroke="#1a1a1a" stroke-width="0.22">dS2</text>
<text transform="translate(653.92,331) rotate(90)" font-family="Liberation Sans" font-size="11.9" fill="#1a1a1a" stroke="#1a1a1a" stroke-width="0.22">EndoL</text>
<text transform="translate(669.92,331) rotate(90)" font-family="Liberation Sans" font-size="11.9" fill="#1a1a1a" stroke="#1a1a1a" stroke-width="0.22">EVT</text>
<text transform="translate(685.92,331) rotate(90)" font-family="Liberation Sans" font-size="11.9" fill="#1a1a1a" stroke="#1a1a1a" stroke-width="0.22">Endo</text>
<rect x="828.7" y="51.4" width="435.7" height="211.2" fill="none" stroke="#a8a8a8" stroke-width="1.2"/>
<circle cx="834.4" cy="56" r="2.5" fill="#e6dc1e"/>
<circle cx="844.04" cy="56" r="3.5" fill="#f07818"/>
<circle cx="853.69" cy="56" r="3.5" fill="#f8a61e"/>
<circle cx="863.33" cy="56" r="1.4" fill="#2b3ba8"/>
<circle cx="872.98" cy="56" r="1.4" fill="#2b3ba8"/>
<circle cx="882.62" cy="56" r="1.4" fill="#2b3ba8"/>
<circle cx="892.27" cy="56" r="1.4" fill="#a4a434"/>
<circle cx="901.91" cy="56" r="1.4" fill="#6c6a9c"/>
<circle cx="911.56" cy="56" r="1.4" fill="#2b3ba8"/>
<circle cx="921.2" cy="56" r="1.12" fill="#2b3ba8"/>
<circle cx="930.85" cy="56" r="1.12" fill="#2b3ba8"/>
<circle cx="940.5" cy="56" r="1.12" fill="#2b3ba8"/>
<circle cx="950.14" cy="56" r="1.12" fill="#2b3ba8"/>
<circle cx="959.78" cy="56" r="1.12" fill="#2b3ba8"/>
<circle cx="969.43" cy="56" r="1.12" fill="#2b3ba8"/>
<circle cx="979.07" cy="56" r="1.12" fill="#2b3ba8"/>
<circle cx="988.72" cy="56" r="1.12" fill="#2b3ba8"/>
<circle cx="998.37" cy="56" r="1.12" fill="#2b3ba8"/>
<circle cx="1008.01" cy="56" r="0.95" fill="#e6dc1e"/>
<circle cx="1017.65" cy="56" r="0.95" fill="#e44a16"/>
<circle cx="1027.3" cy="56" r="0.95" fill="#f8a61e"/>
<circle cx="1036.94" cy="56" r="1.12" fill="#2b3ba8"/>
<circle cx="1046.59" cy="56" r="1.12" fill="#2b3ba8"/>
<circle cx="1056.23" cy="56" r="1.12" fill="#2b3ba8"/>
<circle cx="1065.88" cy="56" r="0.95" fill="#a4a434"/>
<circle cx="1075.53" cy="56" r="1.12" fill="#2b3ba8"/>
<circle cx="1085.17" cy="56" r="1.12" fill="#2b3ba8"/>
<circle cx="1094.82" cy="56" r="0.95" fill="#e6dc1e"/>
<circle cx="1104.46" cy="56" r="0.95" fill="#f07818"/>
<circle cx="1114.11" cy="56" r="0.95" fill="#f8a61e"/>
<circle cx="1123.75" cy="56" r="1.12" fill="#2b3ba8"/>
<circle cx="1133.39" cy="56" r="1.12" fill="#2b3ba8"/>
<circle cx="1143.04" cy="56" r="1.12" fill="#2b3ba8"/>
<circle cx="1152.68" cy="56" r="0.95" fill="#a4a434"/>
<circle cx="1162.33" cy="56" r="1.12" fill="#2b3ba8"/>
<circle cx="1171.97" cy="56" r="1.12" fill="#2b3ba8"/>
<circle cx="1181.62" cy="56" r="3.5" fill="#e6dc1e"/>
<circle cx="1191.26" cy="56" r="3.5" fill="#f07818"/>
<circle cx="1200.91" cy="56" r="3.5" fill="#f8a61e"/>
<circle cx="1210.55" cy="56" r="1.12" fill="#2b3ba8"/>
<circle cx="1220.2" cy="56" r="1.12" fill="#2b3ba8"/>
<circle cx="1229.85" cy="56" r="1.12" fill="#2b3ba8"/>
<circle cx="1239.49" cy="56" r="1.25" fill="#a4a434"/>
<circle cx="1249.13" cy="56" r="0.95" fill="#8a8a8a"/>
<circle cx="1258.78" cy="56" r="1.12" fill="#2b3ba8"/>
<circle cx="834.4" cy="64.42" r="3.8" fill="#e6dc1e"/>
<circle cx="844.04" cy="64.42" r="3.3" fill="#f07818"/>
<circle cx="853.69" cy="64.42" r="3.5" fill="#f8a61e"/>
<circle cx="863.33" cy="64.42" r="1.3" fill="#2b3ba8"/>
<circle cx="872.98" cy="64.42" r="1.4" fill="#2b3ba8"/>
<circle cx="882.62" cy="64.42" r="1.4" fill="#2b3ba8"/>
<circle cx="892.27" cy="64.42" r="1.4" fill="#a4a434"/>
<circle cx="901.91" cy="64.42" r="1.3" fill="#6c6a9c"/>
<circle cx="911.56" cy="64.42" r="1.4" fill="#2b3ba8"/>
<circle cx="921.2" cy="64.42" r="1.12" fill="#2b3ba8"/>
<circle cx="930.85" cy="64.42" r="1.12" fill="#2b3ba8"/>
<circle cx="940.5" cy="64.42" r="1.12" fill="#2b3ba8"/>
<circle cx="950.14" cy="64.42" r="1.12" fill="#2b3ba8"/>
<circle cx="959.78" cy="64.42" r="1.12" fill="#2b3ba8"/>
<circle cx="969.43" cy="64.42" r="1.12" fill="#2b3ba8"/>
<circle cx="979.07" cy="64.42" r="1.12" fill="#2b3ba8"/>
<circle cx="988.72" cy="64.42" r="1.12" fill="#2b3ba8"/>
<circle cx="998.37" cy="64.42" r="1.12" fill="#2b3ba8"/>
<circle cx="1008.01" cy="64.42" r="0.95" fill="#e6dc1e"/>
<circle cx="1017.65" cy="64.42" r="0.95" fill="#e44a16"/>
<circle cx="1027.3" cy="64.42" r="0.95" fill="#f8a61e"/>
<circle cx="1036.94" cy="64.42" r="1.12" fill="#2b3ba8"/>
<circle cx="1046.59" cy="64.42" r="0.95" fill="#2b3ba8"/>
<circle cx="1056.23" cy="64.42" r="1.12" fill="#2b3ba8"/>
<circle cx="1065.88" cy="64.42" r="0.95" fill="#a4a434"/>
<circle cx="1075.53" cy="64.42" r="1.12" fill="#2b3ba8"/>
<circle cx="1085.17" cy="64.42" r="1.12" fill="#2b3ba8"/>
<circle cx="1094.82" cy="64.42" r="0.95" fill="#e6dc1e"/>
<circle cx="1104.46" cy="64.42" r="0.95" fill="#f07818"/>
<circle cx="1114.11" cy="64.42" r="0.95" fill="#f8a61e"/>
<circle cx="1123.75" cy="64.42" r="1.12" fill="#2b3ba8"/>
<circle cx="1133.39" cy="64.42" r="1.12" fill="#2b3ba8"/>
<circle cx="1143.04" cy="64.42" r="1.12" fill="#2b3ba8"/>
<circle cx="1152.68" cy="64.42" r="0.95" fill="#a4a434"/>
<circle cx="1162.33" cy="64.42" r="1.12" fill="#2b3ba8"/>
<circle cx="1171.97" cy="64.42" r="1.12" fill="#2b3ba8"/>
<circle cx="1181.62" cy="64.42" r="3.5" fill="#e6dc1e"/>
<circle cx="1191.26" cy="64.42" r="3.5" fill="#f07818"/>
<circle cx="1200.91" cy="64.42" r="3.5" fill="#f8a61e"/>
<circle cx="1210.55" cy="64.42" r="1.12" fill="#8a8a8a"/>
<circle cx="1220.2" cy="64.42" r="1.12" fill="#2b3ba8"/>
<circle cx="1229.85" cy="64.42" r="1.12" fill="#2b3ba8"/>
<circle cx="1239.49" cy="64.42" r="1.25" fill="#a4a434"/>
<circle cx="1249.13" cy="64.42" r="1.12" fill="#8a8a8a"/>
<circle cx="1258.78" cy="64.42" r="1.12" fill="#2b3ba8"/>
<circle cx="834.4" cy="72.84" r="3.6" fill="#2234a8"/>
<circle cx="844.04" cy="72.84" r="1.12" fill="#2b3ba8"/>
<circle cx="853.69" cy="72.84" r="1.12" fill="#2b3ba8"/>
<circle cx="863.33" cy="72.84" r="1.12" fill="#2b3ba8"/>
<circle cx="872.98" cy="72.84" r="1.12" fill="#2b3ba8"/>
<circle cx="882.62" cy="72.84" r="1.12" fill="#2b3ba8"/>
<circle cx="892.27" cy="72.84" r="1.12" fill="#2b3ba8"/>
<circle cx="901.91" cy="72.84" r="1.12" fill="#2b3ba8"/>
<circle cx="911.56" cy="72.84" r="1.12" fill="#2b3ba8"/>
<circle cx="921.2" cy="72.84" r="1.12" fill="#2b3ba8"/>
<circle cx="930.85" cy="72.84" r="1.12" fill="#2b3ba8"/>
<circle cx="940.5" cy="72.84" r="1.12" fill="#2b3ba8"/>
<circle cx="950.14" cy="72.84" r="1.12" fill="#2b3ba8"/>
<circle cx="959.78" cy="72.84" r="1.12" fill="#2b3ba8"/>
<circle cx="969.43" cy="72.84" r="1.12" fill="#2b3ba8"/>
<circle cx="979.07" cy="72.84" r="1.12" fill="#2b3ba8"/>
<circle cx="988.72" cy="72.84" r="1.12" fill="#2b3ba8"/>
<circle cx="998.37" cy="72.84" r="1.12" fill="#2b3ba8"/>
<circle cx="1008.01" cy="72.84" r="1.12" fill="#8a8a8a"/>
<circle cx="1017.65" cy="72.84" r="1.12" fill="#1c1c1c"/>
<circle cx="1027.3" cy="72.84" r="1.12" fill="#8a8a8a"/>
<circle cx="1036.94" cy="72.84" r="1.12" fill="#8a8a8a"/>
<circle cx="1046.59" cy="72.84" r="1.12" fill="#8a8a8a"/>
<circle cx="1056.23" cy="72.84" r="1.12" fill="#8a8a8a"/>
<circle cx="1065.88" cy="72.84" r="1.12" fill="#8a8a8a"/>
<circle cx="1075.53" cy="72.84" r="1.12" fill="#2b3ba8"/>
<circle cx="1085.17" cy="72.84" r="1.12" fill="#2b3ba8"/>
<circle cx="1094.82" cy="72.84" r="1.12" fill="#2b3ba8"/>
<circle cx="1104.46" cy="72.84" r="1.12" fill="#1c1c1c"/>
<circle cx="1114.11" cy="72.84" r="1.12" fill="#1c1c1c"/>
<circle cx="1123.75" cy="72.84" r="1.12" fill="#8a8a8a"/>
<circle cx="1133.39" cy="72.84" r="1.12" fill="#1c1c1c"/>
<circle cx="1143.04" cy="72.84" r="1.12" fill="#1c1c1c"/>
<circle cx="1152.68" cy="72.84" r="1.12" fill="#1c1c1c"/>
<circle cx="1162.33" cy="72.84" r="1.12" fill="#2b3ba8"/>
<circle cx="1171.97" cy="72.84" r="1.12" fill="#2b3ba8"/>
<circle cx="1181.62" cy="72.84" r="1.12" fill="#1c1c1c"/>
<circle cx="1191.26" cy="72.84" r="1.12" fill="#1c1c1c"/>
<circle cx="1200.91" cy="72.84" r="1.12" fill="#8a8a8a"/>
<circle cx="1210.55" cy="72.84" r="1.12" fill="#8a8a8a"/>
<circle cx="1220.2" cy="72.84" r="1.12" fill="#8a8a8a"/>
<circle cx="1229.85" cy="72.84" r="1.12" fill="#8a8a8a"/>
<circle cx="1239.49" cy="72.84" r="1.12" fill="#8a8a8a"/>
<circle cx="1249.13" cy="72.84" r="1.12" fill="#2b3ba8"/>
<circle cx="1258.78" cy="72.84" r="1.12" fill="#2b3ba8"/>
<circle cx="834.4" cy="81.26" r="3.4" fill="#6c6a9c"/>
<circle cx="844.04" cy="81.26" r="1.4" fill="#2b3ba8"/>
<circle cx="853.69" cy="81.26" r="0.95" fill="#2b3ba8"/>
<circle cx="863.33" cy="81.26" r="1.12" fill="#2b3ba8"/>
<circle cx="872.98" cy="81.26" r="0.95" fill="#2b3ba8"/>
<circle cx="882.62" cy="81.26" r="1.12" fill="#2b3ba8"/>
<circle cx="892.27" cy="81.26" r="1.12" fill="#2b3ba8"/>
<circle cx="901.91" cy="81.26" r="1.12" fill="#2b3ba8"/>
<circle cx="911.56" cy="81.26" r="1.4" fill="#2b3ba8"/>
<circle cx="921.2" cy="81.26" r="0.95" fill="#2b3ba8"/>
<circle cx="930.85" cy="81.26" r="1.12" fill="#2b3ba8"/>
<circle cx="940.5" cy="81.26" r="1.12" fill="#1c1c1c"/>
<circle cx="950.14" cy="81.26" r="1.12" fill="#1c1c1c"/>
<circle cx="959.78" cy="81.26" r="1.12" fill="#1c1c1c"/>
<circle cx="969.43" cy="81.26" r="1.12" fill="#1c1c1c"/>
<circle cx="979.07" cy="81.26" r="0.95" fill="#2b3ba8"/>
<circle cx="988.72" cy="81.26" r="0.95" fill="#2b3ba8"/>
<circle cx="998.37" cy="81.26" r="0.95" fill="#2b3ba8"/>
<circle cx="1008.01" cy="81.26" r="0.95" fill="#2b3ba8"/>
<circle cx="1017.65" cy="81.26" r="1.12" fill="#2b3ba8"/>
<circle cx="1027.3" cy="81.26" r="1.12" fill="#2b3ba8"/>
<circle cx="1036.94" cy="81.26" r="1.12" fill="#1c1c1c"/>
<circle cx="1046.59" cy="81.26" r="0.95" fill="#1c1c1c"/>
<circle cx="1056.23" cy="81.26" r="0.95" fill="#1c1c1c"/>
<circle cx="1065.88" cy="81.26" r="0.95" fill="#2b3ba8"/>
<circle cx="1075.53" cy="81.26" r="0.95" fill="#2b3ba8"/>
<circle cx="1085.17" cy="81.26" r="0.95" fill="#2b3ba8"/>
<circle cx="1094.82" cy="81.26" r="3.6" fill="#858a60"/>
<circle cx="1104.46" cy="81.26" r="3.6" fill="#5a54c0"/>
<circle cx="1114.11" cy="81.26" r="1.12" fill="#2b3ba8"/>
<circle cx="1123.75" cy="81.26" r="0.95" fill="#2b3ba8"/>
<circle cx="1133.39" cy="81.26" r="0.95" fill="#2b3ba8"/>
<circle cx="1143.04" cy="81.26" r="0.95" fill="#2b3ba8"/>
<circle cx="1152.68" cy="81.26" r="3.8" fill="#3444b4"/>
<circle cx="1162.33" cy="81.26" r="3.8" fill="#3444b4"/>
<circle cx="1171.97" cy="81.26" r="3.8" fill="#3444b4"/>
<circle cx="1181.62" cy="81.26" r="3.8" fill="#5a54c0"/>
<circle cx="1191.26" cy="81.26" r="0.95" fill="#2b3ba8"/>
<circle cx="1200.91" cy="81.26" r="0.95" fill="#2b3ba8"/>
<circle cx="1210.55" cy="81.26" r="1.12" fill="#1c1c1c"/>
<circle cx="1220.2" cy="81.26" r="1.12" fill="#1c1c1c"/>
<circle cx="1229.85" cy="81.26" r="1.12" fill="#2b3ba8"/>
<circle cx="1239.49" cy="81.26" r="1.12" fill="#2b3ba8"/>
<circle cx="1249.13" cy="81.26" r="1.12" fill="#2b3ba8"/>
<circle cx="1258.78" cy="81.26" r="1.12" fill="#2b3ba8"/>
<circle cx="834.4" cy="89.68" r="0.95" fill="#a4a434"/>
<circle cx="844.04" cy="89.68" r="3.6" fill="#e6dc1e"/>
<circle cx="853.69" cy="89.68" r="3.6" fill="#f07818"/>
<circle cx="863.33" cy="89.68" r="1.12" fill="#2b3ba8"/>
<circle cx="872.98" cy="89.68" r="0.95" fill="#2b3ba8"/>
<circle cx="882.62" cy="89.68" r="1.12" fill="#2b3ba8"/>
<circle cx="892.27" cy="89.68" r="3.6" fill="#f8a61e"/>
<circle cx="901.91" cy="89.68" r="2" fill="#a4a434"/>
<circle cx="911.56" cy="89.68" r="1.12" fill="#2b3ba8"/>
<circle cx="921.2" cy="89.68" r="0.95" fill="#8a8a8a"/>
<circle cx="930.85" cy="89.68" r="1.12" fill="#e6dc1e"/>
<circle cx="940.5" cy="89.68" r="1.12" fill="#e44a16"/>
<circle cx="950.14" cy="89.68" r="1.12" fill="#2b3ba8"/>
<circle cx="959.78" cy="89.68" r="1.12" fill="#2b3ba8"/>
<circle cx="969.43" cy="89.68" r="1.12" fill="#2b3ba8"/>
<circle cx="979.07" cy="89.68" r="0.95" fill="#f8a61e"/>
<circle cx="988.72" cy="89.68" r="0.95" fill="#a4a434"/>
<circle cx="998.37" cy="89.68" r="1.12" fill="#2b3ba8"/>
<circle cx="1008.01" cy="89.68" r="0.95" fill="#8a8a8a"/>
<circle cx="1017.65" cy="89.68" r="0.95" fill="#e6dc1e"/>
<circle cx="1027.3" cy="89.68" r="0.95" fill="#e44a16"/>
<circle cx="1036.94" cy="89.68" r="1.12" fill="#2b3ba8"/>
<circle cx="1046.59" cy="89.68" r="1.12" fill="#2b3ba8"/>
<circle cx="1056.23" cy="89.68" r="1.12" fill="#2b3ba8"/>
<circle cx="1065.88" cy="89.68" r="0.95" fill="#f8a61e"/>
<circle cx="1075.53" cy="89.68" r="0.95" fill="#a4a434"/>
<circle cx="1085.17" cy="89.68" r="1.12" fill="#2b3ba8"/>
<circle cx="1094.82" cy="89.68" r="0.95" fill="#8a8a8a"/>
<circle cx="1104.46" cy="89.68" r="3.6" fill="#e6dc1e"/>
<circle cx="1114.11" cy="89.68" r="3.6" fill="#f07818"/>
<circle cx="1123.75" cy="89.68" r="1.12" fill="#2b3ba8"/>
<circle cx="1133.39" cy="89.68" r="1.12" fill="#2b3ba8"/>
<circle cx="1143.04" cy="89.68" r="1.12" fill="#2b3ba8"/>
<circle cx="1152.68" cy="89.68" r="3.6" fill="#f8a61e"/>
<circle cx="1162.33" cy="89.68" r="2.5" fill="#a4a434"/>
<circle cx="1171.97" cy="89.68" r="1.12" fill="#2b3ba8"/>
<circle cx="1181.62" cy="89.68" r="0.95" fill="#8a8a8a"/>
<circle cx="1191.26" cy="89.68" r="0.95" fill="#e6dc1e"/>
<circle cx="1200.91" cy="89.68" r="0.95" fill="#e44a16"/>
<circle cx="1210.55" cy="89.68" r="1.12" fill="#2b3ba8"/>
<circle cx="1220.2" cy="89.68" r="1.12" fill="#2b3ba8"/>
<circle cx="1229.85" cy="89.68" r="1.12" fill="#2b3ba8"/>
<circle cx="1239.49" cy="89.68" r="0.95" fill="#f8a61e"/>
<circle cx="1249.13" cy="89.68" r="0.95" fill="#a4a434"/>
<circle cx="1258.78" cy="89.68" r="1.12" fill="#2b3ba8"/>
<circle cx="834.4" cy="98.1" r="0.95" fill="#2b3ba8"/>
<circle cx="844.04" cy="98.1" r="1.12" fill="#2b3ba8"/>
<circle cx="853.69" cy="98.1" r="1.12" fill="#2b3ba8"/>
<circle cx="863.33" cy="98.1" r="1.12" fill="#2b3ba8"/>
<circle cx="872.98" cy="98.1" r="1.12" fill="#2b3ba8"/>
<circle cx="882.62" cy="98.1" r="1.12" fill="#1c1c1c"/>
<circle cx="892.27" cy="98.1" r="1.12" fill="#2b3ba8"/>
<circle cx="901.91" cy="98.1" r="1.12" fill="#2b3ba8"/>
<circle cx="911.56" cy="98.1" r="1.12" fill="#1c1c1c"/>
<circle cx="921.2" cy="98.1" r="1.12" fill="#2b3ba8"/>
<circle cx="930.85" cy="98.1" r="1.12" fill="#2b3ba8"/>
<circle cx="940.5" cy="98.1" r="1.12" fill="#2b3ba8"/>
<circle cx="950.14" cy="98.1" r="1.12" fill="#2b3ba8"/>
<circle cx="959.78" cy="98.1" r="1.12" fill="#1c1c1c"/>
<circle cx="969.43" cy="98.1" r="0.95" fill="#2b3ba8"/>
<circle cx="979.07" cy="98.1" r="1.12" fill="#2b3ba8"/>
<circle cx="988.72" cy="98.1" r="1.12" fill="#2b3ba8"/>
<circle cx="998.37" cy="98.1" r="1.12" fill="#1c1c1c"/>
<circle cx="1008.01" cy="98.1" r="0.95" fill="#2b3ba8"/>
<circle cx="1017.65" cy="98.1" r="1.12" fill="#2b3ba8"/>
<circle cx="1027.3" cy="98.1" r="1.12" fill="#2b3ba8"/>
<circle cx="1036.94" cy="98.1" r="1.12" fill="#2b3ba8"/>
<circle cx="1046.59" cy="98.1" r="1.12" fill="#2b3ba8"/>
<circle cx="1056.23" cy="98.1" r="1.12" fill="#1c1c1c"/>
<circle cx="1065.88" cy="98.1" r="1.12" fill="#2b3ba8"/>
<circle cx="1075.53" cy="98.1" r="1.12" fill="#2b3ba8"/>
<circle cx="1085.17" cy="98.1" r="1.12" fill="#2b3ba8"/>
<circle cx="1094.82" cy="98.1" r="1.12" fill="#2b3ba8"/>
<circle cx="1104.46" cy="98.1" r="1.12" fill="#2b3ba8"/>
<circle cx="1114.11" cy="98.1" r="1.12" fill="#2b3ba8"/>
<circle cx="1123.75" cy="98.1" r="1.12" fill="#2b3ba8"/>
<circle cx="1133.39" cy="98.1" r="1.12" fill="#1c1c1c"/>
<circle cx="1143.04" cy="98.1" r="1.12" fill="#8a8a8a"/>
<circle cx="1152.68" cy="98.1" r="1.12" fill="#2b3ba8"/>
<circle cx="1162.33" cy="98.1" r="1.12" fill="#2b3ba8"/>
<circle cx="1171.97" cy="98.1" r="1.12" fill="#1c1c1c"/>
<circle cx="1181.62" cy="98.1" r="1.12" fill="#2b3ba8"/>
<circle cx="1191.26" cy="98.1" r="1.12" fill="#2b3ba8"/>
<circle cx="1200.91" cy="98.1" r="1.12" fill="#2b3ba8"/>
<circle cx="1210.55" cy="98.1" r="1.12" fill="#2b3ba8"/>
<circle cx="1220.2" cy="98.1" r="1.12" fill="#1c1c1c"/>
<circle cx="1229.85" cy="98.1" r="1.12" fill="#8a8a8a"/>
<circle cx="1239.49" cy="98.1" r="1.12" fill="#2b3ba8"/>
<circle cx="1249.13" cy="98.1" r="1.12" fill="#2b3ba8"/>
<circle cx="1258.78" cy="98.1" r="1.12" fill="#1c1c1c"/>
<circle cx="834.4" cy="106.52" r="3.6" fill="#727278"/>
<circle cx="844.04" cy="106.52" r="3.6" fill="#727278"/>
<circle cx="853.69" cy="106.52" r="3.6" fill="#5a54c0"/>
<circle cx="863.33" cy="106.52" r="1.12" fill="#2b3ba8"/>
<circle cx="872.98" cy="106.52" r="1.12" fill="#2b3ba8"/>
<circle cx="882.62" cy="106.52" r="3.9" fill="#3444b4"/>
<circle cx="892.27" cy="106.52" r="3.9" fill="#3444b4"/>
<circle cx="901.91" cy="106.52" r="0.95" fill="#2b3ba8"/>
<circle cx="911.56" cy="106.52" r="1.12" fill="#2b3ba8"/>
<circle cx="921.2" cy="106.52" r="3.6" fill="#5a54c0"/>
<circle cx="930.85" cy="106.52" r="3.6" fill="#5a54c0"/>
<circle cx="940.5" cy="106.52" r="3.6" fill="#3444b4"/>
<circle cx="950.14" cy="106.52" r="1.12" fill="#2b3ba8"/>
<circle cx="959.78" cy="106.52" r="1.12" fill="#2b3ba8"/>
<circle cx="969.43" cy="106.52" r="1.4" fill="#2b3ba8"/>
<circle cx="979.07" cy="106.52" r="2.5" fill="#3444b4"/>
<circle cx="988.72" cy="106.52" r="1.12" fill="#2b3ba8"/>
<circle cx="998.37" cy="106.52" r="1.12" fill="#2b3ba8"/>
<circle cx="1008.01" cy="106.52" r="3.6" fill="#5a54c0"/>
<circle cx="1017.65" cy="106.52" r="3.6" fill="#5a54c0"/>
<circle cx="1027.3" cy="106.52" r="3.6" fill="#3444b4"/>
<circle cx="1036.94" cy="106.52" r="1.12" fill="#2b3ba8"/>
<circle cx="1046.59" cy="106.52" r="1.12" fill="#2b3ba8"/>
<circle cx="1056.23" cy="106.52" r="1.12" fill="#2b3ba8"/>
<circle cx="1065.88" cy="106.52" r="1.4" fill="#2b3ba8"/>
<circle cx="1075.53" cy="106.52" r="1.12" fill="#2b3ba8"/>
<circle cx="1085.17" cy="106.52" r="1.12" fill="#2b3ba8"/>
<circle cx="1094.82" cy="106.52" r="1.12" fill="#2b3ba8"/>
<circle cx="1104.46" cy="106.52" r="1.12" fill="#2b3ba8"/>
<circle cx="1114.11" cy="106.52" r="1.12" fill="#2b3ba8"/>
<circle cx="1123.75" cy="106.52" r="1.12" fill="#2b3ba8"/>
<circle cx="1133.39" cy="106.52" r="1.12" fill="#1c1c1c"/>
<circle cx="1143.04" cy="106.52" r="1.12" fill="#1c1c1c"/>
<circle cx="1152.68" cy="106.52" r="1.12" fill="#1c1c1c"/>
<circle cx="1162.33" cy="106.52" r="1.12" fill="#1c1c1c"/>
<circle cx="1171.97" cy="106.52" r="1.12" fill="#1c1c1c"/>
<circle cx="1181.62" cy="106.52" r="1.12" fill="#2b3ba8"/>
<circle cx="1191.26" cy="106.52" r="1.12" fill="#2b3ba8"/>
<circle cx="1200.91" cy="106.52" r="1.12" fill="#2b3ba8"/>
<circle cx="1210.55" cy="106.52" r="1.12" fill="#1c1c1c"/>
<circle cx="1220.2" cy="106.52" r="1.12" fill="#1c1c1c"/>
<circle cx="1229.85" cy="106.52" r="1.12" fill="#1c1c1c"/>
<circle cx="1239.49" cy="106.52" r="1.12" fill="#1c1c1c"/>
<circle cx="1249.13" cy="106.52" r="1.12" fill="#8a8a8a"/>
<circle cx="1258.78" cy="106.52" r="1.12" fill="#1c1c1c"/>
<circle cx="834.4" cy="114.94" r="0.95" fill="#2b3ba8"/>
<circle cx="844.04" cy="114.94" r="0.95" fill="#2b3ba8"/>
<circle cx="853.69" cy="114.94" r="0.95" fill="#f8a61e"/>
<circle cx="863.33" cy="114.94" r="1.12" fill="#8a8a8a"/>
<circle cx="872.98" cy="114.94" r="0.95" fill="#a4a434"/>
<circle cx="882.62" cy="114.94" r="1.12" fill="#8a8a8a"/>
<circle cx="892.27" cy="114.94" r="0.95" fill="#f07818"/>
<circle cx="901.91" cy="114.94" r="0.95" fill="#f07818"/>
<circle cx="911.56" cy="114.94" r="0.95" fill="#e6dc1e"/>
<circle cx="921.2" cy="114.94" r="1.12" fill="#2b3ba8"/>
<circle cx="930.85" cy="114.94" r="1.12" fill="#2b3ba8"/>
<circle cx="940.5" cy="114.94" r="3.6" fill="#f8a61e"/>
<circle cx="950.14" cy="114.94" r="2" fill="#858a60"/>
<circle cx="959.78" cy="114.94" r="3" fill="#858a60"/>
<circle cx="969.43" cy="114.94" r="1.4" fill="#858a60"/>
<circle cx="979.07" cy="114.94" r="3.6" fill="#f8a61e"/>
<circle cx="988.72" cy="114.94" r="3.6" fill="#f8a61e"/>
<circle cx="998.37" cy="114.94" r="3.6" fill="#e6dc1e"/>
<circle cx="1008.01" cy="114.94" r="0.95" fill="#2b3ba8"/>
<circle cx="1017.65" cy="114.94" r="0.95" fill="#2b3ba8"/>
<circle cx="1027.3" cy="114.94" r="3.6" fill="#f8a61e"/>
<circle cx="1036.94" cy="114.94" r="2" fill="#858a60"/>
<circle cx="1046.59" cy="114.94" r="3" fill="#858a60"/>
<circle cx="1056.23" cy="114.94" r="2" fill="#858a60"/>
<circle cx="1065.88" cy="114.94" r="3.6" fill="#f8a61e"/>
<circle cx="1075.53" cy="114.94" r="3.6" fill="#f8a61e"/>
<circle cx="1085.17" cy="114.94" r="3.6" fill="#e6dc1e"/>
<circle cx="1094.82" cy="114.94" r="0.95" fill="#2b3ba8"/>
<circle cx="1104.46" cy="114.94" r="0.95" fill="#2b3ba8"/>
<circle cx="1114.11" cy="114.94" r="0.95" fill="#f8a61e"/>
<circle cx="1123.75" cy="114.94" r="0.95" fill="#8a8a8a"/>
<circle cx="1133.39" cy="114.94" r="0.95" fill="#a4a434"/>
<circle cx="1143.04" cy="114.94" r="0.95" fill="#8a8a8a"/>
<circle cx="1152.68" cy="114.94" r="0.95" fill="#f8a61e"/>
<circle cx="1162.33" cy="114.94" r="0.95" fill="#f8a61e"/>
<circle cx="1171.97" cy="114.94" r="0.95" fill="#e6dc1e"/>
<circle cx="1181.62" cy="114.94" r="0.95" fill="#2b3ba8"/>
<circle cx="1191.26" cy="114.94" r="0.95" fill="#2b3ba8"/>
<circle cx="1200.91" cy="114.94" r="0.95" fill="#f8a61e"/>
<circle cx="1210.55" cy="114.94" r="0.95" fill="#8a8a8a"/>
<circle cx="1220.2" cy="114.94" r="0.95" fill="#a4a434"/>
<circle cx="1229.85" cy="114.94" r="0.95" fill="#2b3ba8"/>
<circle cx="1239.49" cy="114.94" r="0.95" fill="#f8a61e"/>
<circle cx="1249.13" cy="114.94" r="0.95" fill="#f8a61e"/>
<circle cx="1258.78" cy="114.94" r="0.95" fill="#e6dc1e"/>
<circle cx="834.4" cy="123.36" r="0.95" fill="#f07818"/>
<circle cx="844.04" cy="123.36" r="0.95" fill="#f07818"/>
<circle cx="853.69" cy="123.36" r="0.95" fill="#f07818"/>
<circle cx="863.33" cy="123.36" r="3.6" fill="#f29022"/>
<circle cx="872.98" cy="123.36" r="3.6" fill="#f29022"/>
<circle cx="882.62" cy="123.36" r="0.95" fill="#f07818"/>
<circle cx="892.27" cy="123.36" r="0.95" fill="#f07818"/>
<circle cx="901.91" cy="123.36" r="0.95" fill="#f07818"/>
<circle cx="911.56" cy="123.36" r="0.95" fill="#f07818"/>
<circle cx="921.2" cy="123.36" r="1.12" fill="#2b3ba8"/>
<circle cx="930.85" cy="123.36" r="1.12" fill="#2b3ba8"/>
<circle cx="940.5" cy="123.36" r="1.12" fill="#2b3ba8"/>
<circle cx="950.14" cy="123.36" r="3.6" fill="#5a54c0"/>
<circle cx="959.78" cy="123.36" r="3.6" fill="#5a54c0"/>
<circle cx="969.43" cy="123.36" r="1.12" fill="#2b3ba8"/>
<circle cx="979.07" cy="123.36" r="1.12" fill="#2b3ba8"/>
<circle cx="988.72" cy="123.36" r="1.12" fill="#2b3ba8"/>
<circle cx="998.37" cy="123.36" r="1.12" fill="#2b3ba8"/>
<circle cx="1008.01" cy="123.36" r="1.12" fill="#1c1c1c"/>
<circle cx="1017.65" cy="123.36" r="1.12" fill="#1c1c1c"/>
<circle cx="1027.3" cy="123.36" r="1.12" fill="#1c1c1c"/>
<circle cx="1036.94" cy="123.36" r="1.12" fill="#2b3ba8"/>
<circle cx="1046.59" cy="123.36" r="1.12" fill="#2b3ba8"/>
<circle cx="1056.23" cy="123.36" r="1.12" fill="#1c1c1c"/>
<circle cx="1065.88" cy="123.36" r="0.95" fill="#8a8a8a"/>
<circle cx="1075.53" cy="123.36" r="0.95" fill="#8a8a8a"/>
<circle cx="1085.17" cy="123.36" r="0.95" fill="#8a8a8a"/>
<circle cx="1094.82" cy="123.36" r="1.12" fill="#2b3ba8"/>
<circle cx="1104.46" cy="123.36" r="1.12" fill="#1c1c1c"/>
<circle cx="1114.11" cy="123.36" r="1.12" fill="#2b3ba8"/>
<circle cx="1123.75" cy="123.36" r="1.12" fill="#2b3ba8"/>
<circle cx="1133.39" cy="123.36" r="1.12" fill="#2b3ba8"/>
<circle cx="1143.04" cy="123.36" r="1.12" fill="#1c1c1c"/>
<circle cx="1152.68" cy="123.36" r="1.12" fill="#1c1c1c"/>
<circle cx="1162.33" cy="123.36" r="1.12" fill="#2b3ba8"/>
<circle cx="1171.97" cy="123.36" r="1.12" fill="#1c1c1c"/>
<circle cx="1181.62" cy="123.36" r="1.12" fill="#1c1c1c"/>
<circle cx="1191.26" cy="123.36" r="1.12" fill="#1c1c1c"/>
<circle cx="1200.91" cy="123.36" r="1.12" fill="#1c1c1c"/>
<circle cx="1210.55" cy="123.36" r="1.12" fill="#2b3ba8"/>
<circle cx="1220.2" cy="123.36" r="1.12" fill="#1c1c1c"/>
<circle cx="1229.85" cy="123.36" r="1.12" fill="#8a8a8a"/>
<circle cx="1239.49" cy="123.36" r="1.12" fill="#8a8a8a"/>
<circle cx="1249.13" cy="123.36" r="1.12" fill="#8a8a8a"/>
<circle cx="1258.78" cy="123.36" r="1.12" fill="#8a8a8a"/>
<circle cx="834.4" cy="131.78" r="0.95" fill="#f07818"/>
<circle cx="844.04" cy="131.78" r="0.95" fill="#f07818"/>
<circle cx="853.69" cy="131.78" r="0.95" fill="#f07818"/>
<circle cx="863.33" cy="131.78" r="3.6" fill="#f29022"/>
<circle cx="872.98" cy="131.78" r="3.6" fill="#f29022"/>
<circle cx="882.62" cy="131.78" r="0.95" fill="#f07818"/>
<circle cx="892.27" cy="131.78" r="0.95" fill="#f07818"/>
<circle cx="901.91" cy="131.78" r="0.95" fill="#f07818"/>
<circle cx="911.56" cy="131.78" r="1.12" fill="#2b3ba8"/>
<circle cx="921.2" cy="131.78" r="1.12" fill="#2b3ba8"/>
<circle cx="930.85" cy="131.78" r="1.12" fill="#2b3ba8"/>
<circle cx="940.5" cy="131.78" r="1.12" fill="#2b3ba8"/>
<circle cx="950.14" cy="131.78" r="3.6" fill="#5a54c0"/>
<circle cx="959.78" cy="131.78" r="3.6" fill="#727278"/>
<circle cx="969.43" cy="131.78" r="1.12" fill="#2b3ba8"/>
<circle cx="979.07" cy="131.78" r="1.12" fill="#2b3ba8"/>
<circle cx="988.72" cy="131.78" r="1.12" fill="#2b3ba8"/>
<circle cx="998.37" cy="131.78" r="1.12" fill="#2b3ba8"/>
<circle cx="1008.01" cy="131.78" r="1.12" fill="#8a8a8a"/>
<circle cx="1017.65" cy="131.78" r="1.12" fill="#1c1c1c"/>
<circle cx="1027.3" cy="131.78" r="1.12" fill="#8a8a8a"/>
<circle cx="1036.94" cy="131.78" r="1.12" fill="#2b3ba8"/>
<circle cx="1046.59" cy="131.78" r="1.12" fill="#2b3ba8"/>
<circle cx="1056.23" cy="131.78" r="1.12" fill="#8a8a8a"/>
<circle cx="1065.88" cy="131.78" r="1.12" fill="#1c1c1c"/>
<circle cx="1075.53" cy="131.78" r="1.12" fill="#8a8a8a"/>
<circle cx="1085.17" cy="131.78" r="1.12" fill="#2b3ba8"/>
<circle cx="1094.82" cy="131.78" r="1.12" fill="#1c1c1c"/>
<circle cx="1104.46" cy="131.78" r="1.12" fill="#1c1c1c"/>
<circle cx="1114.11" cy="131.78" r="1.12" fill="#2b3ba8"/>
<circle cx="1123.75" cy="131.78" r="1.12" fill="#2b3ba8"/>
<circle cx="1133.39" cy="131.78" r="1.12" fill="#2b3ba8"/>
<circle cx="1143.04" cy="131.78" r="1.12" fill="#1c1c1c"/>
<circle cx="1152.68" cy="131.78" r="1.12" fill="#1c1c1c"/>
<circle cx="1162.33" cy="131.78" r="1.12" fill="#1c1c1c"/>
<circle cx="1171.97" cy="131.78" r="1.12" fill="#2b3ba8"/>
<circle cx="1181.62" cy="131.78" r="1.12" fill="#8a8a8a"/>
<circle cx="1191.26" cy="131.78" r="1.12" fill="#8a8a8a"/>
<circle cx="1200.91" cy="131.78" r="1.12" fill="#8a8a8a"/>
<circle cx="1210.55" cy="131.78" r="1.12" fill="#2b3ba8"/>
<circle cx="1220.2" cy="131.78" r="1.12" fill="#2b3ba8"/>
<circle cx="1229.85" cy="131.78" r="1.12" fill="#8a8a8a"/>
<circle cx="1239.49" cy="131.78" r="1.12" fill="#1c1c1c"/>
<circle cx="1249.13" cy="131.78" r="1.12" fill="#8a8a8a"/>
<circle cx="1258.78" cy="131.78" r="1.12" fill="#2b3ba8"/>
<circle cx="834.4" cy="140.2" r="0.95" fill="#8a8a8a"/>
<circle cx="844.04" cy="140.2" r="0.95" fill="#8a8a8a"/>
<circle cx="853.69" cy="140.2" r="0.95" fill="#8a8a8a"/>
<circle cx="863.33" cy="140.2" r="1.12" fill="#2b3ba8"/>
<circle cx="872.98" cy="140.2" r="1.12" fill="#2b3ba8"/>
<circle cx="882.62" cy="140.2" r="0.95" fill="#8a8a8a"/>
<circle cx="892.27" cy="140.2" r="1.12" fill="#1c1c1c"/>
<circle cx="901.91" cy="140.2" r="0.95" fill="#8a8a8a"/>
<circle cx="911.56" cy="140.2" r="1.12" fill="#2b3ba8"/>
<circle cx="921.2" cy="140.2" r="1.12" fill="#2b3ba8"/>
<circle cx="930.85" cy="140.2" r="1.12" fill="#2b3ba8"/>
<circle cx="940.5" cy="140.2" r="1.12" fill="#2b3ba8"/>
<circle cx="950.14" cy="140.2" r="3.6" fill="#2234a8"/>
<circle cx="959.78" cy="140.2" r="3.6" fill="#4a4ab8"/>
<circle cx="969.43" cy="140.2" r="1.12" fill="#2b3ba8"/>
<circle cx="979.07" cy="140.2" r="1.12" fill="#2b3ba8"/>
<circle cx="988.72" cy="140.2" r="1.12" fill="#2b3ba8"/>
<circle cx="998.37" cy="140.2" r="1.12" fill="#2b3ba8"/>
<circle cx="1008.01" cy="140.2" r="1.12" fill="#2b3ba8"/>
<circle cx="1017.65" cy="140.2" r="1.12" fill="#2b3ba8"/>
<circle cx="1027.3" cy="140.2" r="1.12" fill="#2b3ba8"/>
<circle cx="1036.94" cy="140.2" r="3.6" fill="#3444b4"/>
<circle cx="1046.59" cy="140.2" r="3.6" fill="#4a4ab8"/>
<circle cx="1056.23" cy="140.2" r="1.12" fill="#2b3ba8"/>
<circle cx="1065.88" cy="140.2" r="1.12" fill="#2b3ba8"/>
<circle cx="1075.53" cy="140.2" r="1.12" fill="#2b3ba8"/>
<circle cx="1085.17" cy="140.2" r="1.12" fill="#2b3ba8"/>
<circle cx="1094.82" cy="140.2" r="1.12" fill="#8a8a8a"/>
<circle cx="1104.46" cy="140.2" r="1.12" fill="#8a8a8a"/>
<circle cx="1114.11" cy="140.2" r="1.12" fill="#2b3ba8"/>
<circle cx="1123.75" cy="140.2" r="1.12" fill="#2b3ba8"/>
<circle cx="1133.39" cy="140.2" r="1.12" fill="#2b3ba8"/>
<circle cx="1143.04" cy="140.2" r="1.12" fill="#8a8a8a"/>
<circle cx="1152.68" cy="140.2" r="1.12" fill="#1c1c1c"/>
<circle cx="1162.33" cy="140.2" r="1.12" fill="#8a8a8a"/>
<circle cx="1171.97" cy="140.2" r="1.12" fill="#2b3ba8"/>
<circle cx="1181.62" cy="140.2" r="1.12" fill="#2b3ba8"/>
<circle cx="1191.26" cy="140.2" r="1.12" fill="#2b3ba8"/>
<circle cx="1200.91" cy="140.2" r="1.12" fill="#2b3ba8"/>
<circle cx="1210.55" cy="140.2" r="1.12" fill="#2b3ba8"/>
<circle cx="1220.2" cy="140.2" r="1.12" fill="#2b3ba8"/>
<circle cx="1229.85" cy="140.2" r="1.12" fill="#2b3ba8"/>
<circle cx="1239.49" cy="140.2" r="1.12" fill="#2b3ba8"/>
<circle cx="1249.13" cy="140.2" r="1.12" fill="#2b3ba8"/>
<circle cx="1258.78" cy="140.2" r="1.12" fill="#2b3ba8"/>
<circle cx="834.4" cy="148.62" r="3.6" fill="#e6dc1e"/>
<circle cx="844.04" cy="148.62" r="3.6" fill="#e6dc1e"/>
<circle cx="853.69" cy="148.62" r="3.6" fill="#f6c21c"/>
<circle cx="863.33" cy="148.62" r="1.12" fill="#2b3ba8"/>
<circle cx="872.98" cy="148.62" r="0.95" fill="#8a8a8a"/>
<circle cx="882.62" cy="148.62" r="1.12" fill="#2b3ba8"/>
<circle cx="892.27" cy="148.62" r="1.12" fill="#2b3ba8"/>
<circle cx="901.91" cy="148.62" r="1.12" fill="#2b3ba8"/>
<circle cx="911.56" cy="148.62" r="1.12" fill="#2b3ba8"/>
<circle cx="921.2" cy="148.62" r="0.95" fill="#e6dc1e"/>
<circle cx="930.85" cy="148.62" r="0.95" fill="#e6dc1e"/>
<circle cx="940.5" cy="148.62" r="0.95" fill="#e6dc1e"/>
<circle cx="950.14" cy="148.62" r="1.12" fill="#2b3ba8"/>
<circle cx="959.78" cy="148.62" r="0.95" fill="#1c1c1c"/>
<circle cx="969.43" cy="148.62" r="1.12" fill="#2b3ba8"/>
<circle cx="979.07" cy="148.62" r="1.12" fill="#2b3ba8"/>
<circle cx="988.72" cy="148.62" r="1.12" fill="#2b3ba8"/>
<circle cx="998.37" cy="148.62" r="1.12" fill="#2b3ba8"/>
<circle cx="1008.01" cy="148.62" r="3.6" fill="#e6dc1e"/>
<circle cx="1017.65" cy="148.62" r="3.6" fill="#e6dc1e"/>
<circle cx="1027.3" cy="148.62" r="3.6" fill="#f6c21c"/>
<circle cx="1036.94" cy="148.62" r="1.12" fill="#2b3ba8"/>
<circle cx="1046.59" cy="148.62" r="0.95" fill="#a4a434"/>
<circle cx="1056.23" cy="148.62" r="1.12" fill="#2b3ba8"/>
<circle cx="1065.88" cy="148.62" r="1.12" fill="#2b3ba8"/>
<circle cx="1075.53" cy="148.62" r="1.12" fill="#2b3ba8"/>
<circle cx="1085.17" cy="148.62" r="1.12" fill="#2b3ba8"/>
<circle cx="1094.82" cy="148.62" r="0.95" fill="#e6dc1e"/>
<circle cx="1104.46" cy="148.62" r="0.95" fill="#e6dc1e"/>
<circle cx="1114.11" cy="148.62" r="0.95" fill="#f8a61e"/>
<circle cx="1123.75" cy="148.62" r="1.12" fill="#2b3ba8"/>
<circle cx="1133.39" cy="148.62" r="1.12" fill="#8a8a8a"/>
<circle cx="1143.04" cy="148.62" r="1.12" fill="#2b3ba8"/>
<circle cx="1152.68" cy="148.62" r="1.12" fill="#2b3ba8"/>
<circle cx="1162.33" cy="148.62" r="1.12" fill="#2b3ba8"/>
<circle cx="1171.97" cy="148.62" r="1.12" fill="#2b3ba8"/>
<circle cx="1181.62" cy="148.62" r="0.95" fill="#e6dc1e"/>
<circle cx="1191.26" cy="148.62" r="0.95" fill="#e6dc1e"/>
<circle cx="1200.91" cy="148.62" r="0.95" fill="#f8a61e"/>
<circle cx="1210.55" cy="148.62" r="1.12" fill="#2b3ba8"/>
<circle cx="1220.2" cy="148.62" r="1.12" fill="#8a8a8a"/>
<circle cx="1229.85" cy="148.62" r="1.12" fill="#2b3ba8"/>
<circle cx="1239.49" cy="148.62" r="1.12" fill="#2b3ba8"/>
<circle cx="1249.13" cy="148.62" r="1.12" fill="#2b3ba8"/>
<circle cx="1258.78" cy="148.62" r="1.12" fill="#2b3ba8"/>
<circle cx="834.4" cy="157.04" r="3.9" fill="#3444b4"/>
<circle cx="844.04" cy="157.04" r="3.9" fill="#3444b4"/>
<circle cx="853.69" cy="157.04" r="2.6" fill="#2234a8"/>
<circle cx="863.33" cy="157.04" r="3.9" fill="#3444b4"/>
<circle cx="872.98" cy="157.04" r="3.9" fill="#3444b4"/>
<circle cx="882.62" cy="157.04" r="0.95" fill="#2b3ba8"/>
<circle cx="892.27" cy="157.04" r="0.95" fill="#2b3ba8"/>
<circle cx="901.91" cy="157.04" r="3.9" fill="#3444b4"/>
<circle cx="911.56" cy="157.04" r="0.95" fill="#2b3ba8"/>
<circle cx="921.2" cy="157.04" r="3.9" fill="#3444b4"/>
<circle cx="930.85" cy="157.04" r="3.9" fill="#3444b4"/>
<circle cx="940.5" cy="157.04" r="3.9" fill="#3444b4"/>
<circle cx="950.14" cy="157.04" r="3.9" fill="#3444b4"/>
<circle cx="959.78" cy="157.04" r="3.9" fill="#5a54c0"/>
<circle cx="969.43" cy="157.04" r="1.12" fill="#2b3ba8"/>
<circle cx="979.07" cy="157.04" r="1.12" fill="#2b3ba8"/>
<circle cx="988.72" cy="157.04" r="3.9" fill="#3444b4"/>
<circle cx="998.37" cy="157.04" r="0.95" fill="#2b3ba8"/>
<circle cx="1008.01" cy="157.04" r="3.9" fill="#3444b4"/>
<circle cx="1017.65" cy="157.04" r="3.9" fill="#3444b4"/>
<circle cx="1027.3" cy="157.04" r="3.9" fill="#3444b4"/>
<circle cx="1036.94" cy="157.04" r="3.9" fill="#3444b4"/>
<circle cx="1046.59" cy="157.04" r="3.9" fill="#4a4ab8"/>
<circle cx="1056.23" cy="157.04" r="0.95" fill="#2b3ba8"/>
<circle cx="1065.88" cy="157.04" r="0.95" fill="#2b3ba8"/>
<circle cx="1075.53" cy="157.04" r="3.9" fill="#3444b4"/>
<circle cx="1085.17" cy="157.04" r="0.95" fill="#2b3ba8"/>
<circle cx="1094.82" cy="157.04" r="0.95" fill="#2b3ba8"/>
<circle cx="1104.46" cy="157.04" r="0.95" fill="#2b3ba8"/>
<circle cx="1114.11" cy="157.04" r="0.95" fill="#2b3ba8"/>
<circle cx="1123.75" cy="157.04" r="0.95" fill="#2b3ba8"/>
<circle cx="1133.39" cy="157.04" r="0.95" fill="#2b3ba8"/>
<circle cx="1143.04" cy="157.04" r="0.95" fill="#8a8a8a"/>
<circle cx="1152.68" cy="157.04" r="0.95" fill="#8a8a8a"/>
<circle cx="1162.33" cy="157.04" r="1.12" fill="#2b3ba8"/>
<circle cx="1171.97" cy="157.04" r="1.12" fill="#2b3ba8"/>
<circle cx="1181.62" cy="157.04" r="1.12" fill="#2b3ba8"/>
<circle cx="1191.26" cy="157.04" r="1.12" fill="#2b3ba8"/>
<circle cx="1200.91" cy="157.04" r="1.12" fill="#2b3ba8"/>
<circle cx="1210.55" cy="157.04" r="1.12" fill="#2b3ba8"/>
<circle cx="1220.2" cy="157.04" r="1.12" fill="#2b3ba8"/>
<circle cx="1229.85" cy="157.04" r="1.12" fill="#8a8a8a"/>
<circle cx="1239.49" cy="157.04" r="1.12" fill="#8a8a8a"/>
<circle cx="1249.13" cy="157.04" r="1.12" fill="#2b3ba8"/>
<circle cx="1258.78" cy="157.04" r="1.12" fill="#2b3ba8"/>
<circle cx="834.4" cy="165.46" r="3.6" fill="#e44a16"/>
<circle cx="844.04" cy="165.46" r="0.95" fill="#e44a16"/>
<circle cx="853.69" cy="165.46" r="0.95" fill="#e44a16"/>
<circle cx="863.33" cy="165.46" r="3.6" fill="#e44a16"/>
<circle cx="872.98" cy="165.46" r="3.6" fill="#e44a16"/>
<circle cx="882.62" cy="165.46" r="0.95" fill="#e44a16"/>
<circle cx="892.27" cy="165.46" r="0.95" fill="#e44a16"/>
<circle cx="901.91" cy="165.46" r="0.95" fill="#e44a16"/>
<circle cx="911.56" cy="165.46" r="1.12" fill="#2b3ba8"/>
<circle cx="921.2" cy="165.46" r="1.12" fill="#2b3ba8"/>
<circle cx="930.85" cy="165.46" r="1.12" fill="#1c1c1c"/>
<circle cx="940.5" cy="165.46" r="1.12" fill="#1c1c1c"/>
<circle cx="950.14" cy="165.46" r="1.12" fill="#2b3ba8"/>
<circle cx="959.78" cy="165.46" r="1.12" fill="#1c1c1c"/>
<circle cx="969.43" cy="165.46" r="1.12" fill="#1c1c1c"/>
<circle cx="979.07" cy="165.46" r="1.12" fill="#1c1c1c"/>
<circle cx="988.72" cy="165.46" r="1.12" fill="#1c1c1c"/>
<circle cx="998.37" cy="165.46" r="1.12" fill="#2b3ba8"/>
<circle cx="1008.01" cy="165.46" r="1.12" fill="#2b3ba8"/>
<circle cx="1017.65" cy="165.46" r="1.12" fill="#1c1c1c"/>
<circle cx="1027.3" cy="165.46" r="1.12" fill="#8a8a8a"/>
<circle cx="1036.94" cy="165.46" r="1.12" fill="#2b3ba8"/>
<circle cx="1046.59" cy="165.46" r="1.12" fill="#2b3ba8"/>
<circle cx="1056.23" cy="165.46" r="1.12" fill="#8a8a8a"/>
<circle cx="1065.88" cy="165.46" r="1.12" fill="#8a8a8a"/>
<circle cx="1075.53" cy="165.46" r="1.12" fill="#8a8a8a"/>
<circle cx="1085.17" cy="165.46" r="1.12" fill="#2b3ba8"/>
<circle cx="1094.82" cy="165.46" r="1.12" fill="#2b3ba8"/>
<circle cx="1104.46" cy="165.46" r="1.12" fill="#1c1c1c"/>
<circle cx="1114.11" cy="165.46" r="1.12" fill="#2b3ba8"/>
<circle cx="1123.75" cy="165.46" r="1.12" fill="#2b3ba8"/>
<circle cx="1133.39" cy="165.46" r="1.12" fill="#2b3ba8"/>
<circle cx="1143.04" cy="165.46" r="1.12" fill="#1c1c1c"/>
<circle cx="1152.68" cy="165.46" r="1.12" fill="#1c1c1c"/>
<circle cx="1162.33" cy="165.46" r="1.12" fill="#8a8a8a"/>
<circle cx="1171.97" cy="165.46" r="1.12" fill="#2b3ba8"/>
<circle cx="1181.62" cy="165.46" r="1.8" fill="#2234a8"/>
<circle cx="1191.26" cy="165.46" r="1.12" fill="#1c1c1c"/>
<circle cx="1200.91" cy="165.46" r="1.12" fill="#1c1c1c"/>
<circle cx="1210.55" cy="165.46" r="1.8" fill="#2234a8"/>
<circle cx="1220.2" cy="165.46" r="1.8" fill="#2234a8"/>
<circle cx="1229.85" cy="165.46" r="1.12" fill="#1c1c1c"/>
<circle cx="1239.49" cy="165.46" r="1.12" fill="#1c1c1c"/>
<circle cx="1249.13" cy="165.46" r="1.12" fill="#8a8a8a"/>
<circle cx="1258.78" cy="165.46" r="1.12" fill="#2b3ba8"/>
<circle cx="834.4" cy="173.88" r="0.95" fill="#a4a434"/>
<circle cx="844.04" cy="173.88" r="3.6" fill="#e6dc1e"/>
<circle cx="853.69" cy="173.88" r="3.6" fill="#f07818"/>
<circle cx="863.33" cy="173.88" r="1.12" fill="#2b3ba8"/>
<circle cx="872.98" cy="173.88" r="1.12" fill="#2b3ba8"/>
<circle cx="882.62" cy="173.88" r="1.12" fill="#2b3ba8"/>
<circle cx="892.27" cy="173.88" r="3.6" fill="#f8a61e"/>
<circle cx="901.91" cy="173.88" r="2.2" fill="#a4a434"/>
<circle cx="911.56" cy="173.88" r="1.12" fill="#2b3ba8"/>
<circle cx="921.2" cy="173.88" r="0.95" fill="#8a8a8a"/>
<circle cx="930.85" cy="173.88" r="0.95" fill="#e6dc1e"/>
<circle cx="940.5" cy="173.88" r="0.95" fill="#f07818"/>
<circle cx="950.14" cy="173.88" r="1.12" fill="#2b3ba8"/>
<circle cx="959.78" cy="173.88" r="1.12" fill="#2b3ba8"/>
<circle cx="969.43" cy="173.88" r="1.12" fill="#2b3ba8"/>
<circle cx="979.07" cy="173.88" r="0.95" fill="#f8a61e"/>
<circle cx="988.72" cy="173.88" r="0.95" fill="#a4a434"/>
<circle cx="998.37" cy="173.88" r="1.12" fill="#2b3ba8"/>
<circle cx="1008.01" cy="173.88" r="0.95" fill="#8a8a8a"/>
<circle cx="1017.65" cy="173.88" r="0.95" fill="#e6dc1e"/>
<circle cx="1027.3" cy="173.88" r="0.95" fill="#f07818"/>
<circle cx="1036.94" cy="173.88" r="1.12" fill="#2b3ba8"/>
<circle cx="1046.59" cy="173.88" r="1.12" fill="#2b3ba8"/>
<circle cx="1056.23" cy="173.88" r="1.12" fill="#2b3ba8"/>
<circle cx="1065.88" cy="173.88" r="0.95" fill="#f8a61e"/>
<circle cx="1075.53" cy="173.88" r="0.95" fill="#a4a434"/>
<circle cx="1085.17" cy="173.88" r="1.12" fill="#2b3ba8"/>
<circle cx="1094.82" cy="173.88" r="0.95" fill="#8a8a8a"/>
<circle cx="1104.46" cy="173.88" r="0.95" fill="#e6dc1e"/>
<circle cx="1114.11" cy="173.88" r="0.95" fill="#f07818"/>
<circle cx="1123.75" cy="173.88" r="1.12" fill="#2b3ba8"/>
<circle cx="1133.39" cy="173.88" r="1.12" fill="#2b3ba8"/>
<circle cx="1143.04" cy="173.88" r="1.12" fill="#2b3ba8"/>
<circle cx="1152.68" cy="173.88" r="0.95" fill="#f8a61e"/>
<circle cx="1162.33" cy="173.88" r="0.95" fill="#a4a434"/>
<circle cx="1171.97" cy="173.88" r="1.12" fill="#2b3ba8"/>
<circle cx="1181.62" cy="173.88" r="1.12" fill="#2b3ba8"/>
<circle cx="1191.26" cy="173.88" r="1.12" fill="#2b3ba8"/>
<circle cx="1200.91" cy="173.88" r="1.12" fill="#2b3ba8"/>
<circle cx="1210.55" cy="173.88" r="1.12" fill="#2b3ba8"/>
<circle cx="1220.2" cy="173.88" r="1.12" fill="#2b3ba8"/>
<circle cx="1229.85" cy="173.88" r="1.12" fill="#2b3ba8"/>
<circle cx="1239.49" cy="173.88" r="1.12" fill="#2b3ba8"/>
<circle cx="1249.13" cy="173.88" r="1.12" fill="#2b3ba8"/>
<circle cx="1258.78" cy="173.88" r="1.12" fill="#2b3ba8"/>
<circle cx="834.4" cy="182.3" r="2.2" fill="#f8a61e"/>
<circle cx="844.04" cy="182.3" r="3.6" fill="#f8a61e"/>
<circle cx="853.69" cy="182.3" r="3.6" fill="#f07818"/>
<circle cx="863.33" cy="182.3" r="3.6" fill="#f07818"/>
<circle cx="872.98" cy="182.3" r="3.6" fill="#e44a16"/>
<circle cx="882.62" cy="182.3" r="1.12" fill="#a4a434"/>
<circle cx="892.27" cy="182.3" r="1.12" fill="#e6dc1e"/>
<circle cx="901.91" cy="182.3" r="1.12" fill="#a4a434"/>
<circle cx="911.56" cy="182.3" r="1.12" fill="#8a8a8a"/>
<circle cx="921.2" cy="182.3" r="0.95" fill="#f07818"/>
<circle cx="930.85" cy="182.3" r="0.95" fill="#f07818"/>
<circle cx="940.5" cy="182.3" r="0.95" fill="#f07818"/>
<circle cx="950.14" cy="182.3" r="0.95" fill="#f07818"/>
<circle cx="959.78" cy="182.3" r="0.95" fill="#e44a16"/>
<circle cx="969.43" cy="182.3" r="0.95" fill="#a4a434"/>
<circle cx="979.07" cy="182.3" r="0.95" fill="#e6dc1e"/>
<circle cx="988.72" cy="182.3" r="0.95" fill="#a4a434"/>
<circle cx="998.37" cy="182.3" r="0.95" fill="#8a8a8a"/>
<circle cx="1008.01" cy="182.3" r="0.95" fill="#f07818"/>
<circle cx="1017.65" cy="182.3" r="0.95" fill="#f07818"/>
<circle cx="1027.3" cy="182.3" r="0.95" fill="#f07818"/>
<circle cx="1036.94" cy="182.3" r="0.95" fill="#f07818"/>
<circle cx="1046.59" cy="182.3" r="0.95" fill="#e44a16"/>
<circle cx="1056.23" cy="182.3" r="0.95" fill="#a4a434"/>
<circle cx="1065.88" cy="182.3" r="0.95" fill="#e6dc1e"/>
<circle cx="1075.53" cy="182.3" r="0.95" fill="#a4a434"/>
<circle cx="1085.17" cy="182.3" r="0.95" fill="#8a8a8a"/>
<circle cx="1094.82" cy="182.3" r="0.95" fill="#f07818"/>
<circle cx="1104.46" cy="182.3" r="0.95" fill="#f07818"/>
<circle cx="1114.11" cy="182.3" r="0.95" fill="#a4a434"/>
<circle cx="1123.75" cy="182.3" r="0.95" fill="#f07818"/>
<circle cx="1133.39" cy="182.3" r="0.95" fill="#e44a16"/>
<circle cx="1143.04" cy="182.3" r="0.95" fill="#a4a434"/>
<circle cx="1152.68" cy="182.3" r="0.95" fill="#e6dc1e"/>
<circle cx="1162.33" cy="182.3" r="0.95" fill="#a4a434"/>
<circle cx="1171.97" cy="182.3" r="0.95" fill="#8a8a8a"/>
<circle cx="1181.62" cy="182.3" r="1.12" fill="#2b3ba8"/>
<circle cx="1191.26" cy="182.3" r="1.12" fill="#2b3ba8"/>
<circle cx="1200.91" cy="182.3" r="1.12" fill="#2b3ba8"/>
<circle cx="1210.55" cy="182.3" r="1.12" fill="#2b3ba8"/>
<circle cx="1220.2" cy="182.3" r="1.12" fill="#2b3ba8"/>
<circle cx="1229.85" cy="182.3" r="1.12" fill="#2b3ba8"/>
<circle cx="1239.49" cy="182.3" r="1.12" fill="#2b3ba8"/>
<circle cx="1249.13" cy="182.3" r="1.12" fill="#2b3ba8"/>
<circle cx="1258.78" cy="182.3" r="1.12" fill="#2b3ba8"/>
<circle cx="834.4" cy="190.72" r="3.6" fill="#f07818"/>
<circle cx="844.04" cy="190.72" r="3.6" fill="#e44a16"/>
<circle cx="853.69" cy="190.72" r="3.6" fill="#e44a16"/>
<circle cx="863.33" cy="190.72" r="3.1" fill="#f8a61e"/>
<circle cx="872.98" cy="190.72" r="3.6" fill="#f07818"/>
<circle cx="882.62" cy="190.72" r="1.12" fill="#a4a434"/>
<circle cx="892.27" cy="190.72" r="3.6" fill="#f07818"/>
<circle cx="901.91" cy="190.72" r="1.12" fill="#e6dc1e"/>
<circle cx="911.56" cy="190.72" r="1.12" fill="#a4a434"/>
<circle cx="921.2" cy="190.72" r="0.95" fill="#f07818"/>
<circle cx="930.85" cy="190.72" r="0.95" fill="#e44a16"/>
<circle cx="940.5" cy="190.72" r="0.95" fill="#e44a16"/>
<circle cx="950.14" cy="190.72" r="0.95" fill="#f07818"/>
<circle cx="959.78" cy="190.72" r="0.95" fill="#f07818"/>
<circle cx="969.43" cy="190.72" r="0.95" fill="#a4a434"/>
<circle cx="979.07" cy="190.72" r="0.95" fill="#f07818"/>
<circle cx="988.72" cy="190.72" r="0.95" fill="#e6dc1e"/>
<circle cx="998.37" cy="190.72" r="0.95" fill="#a4a434"/>
<circle cx="1008.01" cy="190.72" r="0.95" fill="#f07818"/>
<circle cx="1017.65" cy="190.72" r="0.95" fill="#e44a16"/>
<circle cx="1027.3" cy="190.72" r="0.95" fill="#e44a16"/>
<circle cx="1036.94" cy="190.72" r="0.95" fill="#f07818"/>
<circle cx="1046.59" cy="190.72" r="0.95" fill="#f07818"/>
<circle cx="1056.23" cy="190.72" r="0.95" fill="#a4a434"/>
<circle cx="1065.88" cy="190.72" r="0.95" fill="#a4a434"/>
<circle cx="1075.53" cy="190.72" r="0.95" fill="#e6dc1e"/>
<circle cx="1085.17" cy="190.72" r="0.95" fill="#8a8a8a"/>
<circle cx="1094.82" cy="190.72" r="0.95" fill="#f07818"/>
<circle cx="1104.46" cy="190.72" r="0.95" fill="#e44a16"/>
<circle cx="1114.11" cy="190.72" r="0.95" fill="#a4a434"/>
<circle cx="1123.75" cy="190.72" r="0.95" fill="#f07818"/>
<circle cx="1133.39" cy="190.72" r="0.95" fill="#f07818"/>
<circle cx="1143.04" cy="190.72" r="0.95" fill="#a4a434"/>
<circle cx="1152.68" cy="190.72" r="0.95" fill="#f07818"/>
<circle cx="1162.33" cy="190.72" r="0.95" fill="#e6dc1e"/>
<circle cx="1171.97" cy="190.72" r="0.95" fill="#a4a434"/>
<circle cx="1181.62" cy="190.72" r="1.12" fill="#2b3ba8"/>
<circle cx="1191.26" cy="190.72" r="1.12" fill="#2b3ba8"/>
<circle cx="1200.91" cy="190.72" r="1.12" fill="#2b3ba8"/>
<circle cx="1210.55" cy="190.72" r="1.12" fill="#2b3ba8"/>
<circle cx="1220.2" cy="190.72" r="1.12" fill="#2b3ba8"/>
<circle cx="1229.85" cy="190.72" r="1.12" fill="#2b3ba8"/>
<circle cx="1239.49" cy="190.72" r="1.12" fill="#2b3ba8"/>
<circle cx="1249.13" cy="190.72" r="1.12" fill="#2b3ba8"/>
<circle cx="1258.78" cy="190.72" r="1.12" fill="#2b3ba8"/>
<circle cx="834.4" cy="199.14" r="1.12" fill="#2b3ba8"/>
<circle cx="844.04" cy="199.14" r="1.12" fill="#2b3ba8"/>
<circle cx="853.69" cy="199.14" r="3.6" fill="#5a54c0"/>
<circle cx="863.33" cy="199.14" r="1.12" fill="#2b3ba8"/>
<circle cx="872.98" cy="199.14" r="1.12" fill="#2b3ba8"/>
<circle cx="882.62" cy="199.14" r="1.12" fill="#2b3ba8"/>
<circle cx="892.27" cy="199.14" r="3.6" fill="#5a54c0"/>
<circle cx="901.91" cy="199.14" r="3.6" fill="#3444b4"/>
<circle cx="911.56" cy="199.14" r="3.6" fill="#e6dc1e"/>
<circle cx="921.2" cy="199.14" r="1.12" fill="#1c1c1c"/>
<circle cx="930.85" cy="199.14" r="1.12" fill="#1c1c1c"/>
<circle cx="940.5" cy="199.14" r="3.6" fill="#3444b4"/>
<circle cx="950.14" cy="199.14" r="1.12" fill="#1c1c1c"/>
<circle cx="959.78" cy="199.14" r="1.12" fill="#1c1c1c"/>
<circle cx="969.43" cy="199.14" r="1.12" fill="#1c1c1c"/>
<circle cx="979.07" cy="199.14" r="3.6" fill="#3444b4"/>
<circle cx="988.72" cy="199.14" r="3.6" fill="#2234a8"/>
<circle cx="998.37" cy="199.14" r="3.6" fill="#e6dc1e"/>
<circle cx="1008.01" cy="199.14" r="1.12" fill="#1c1c1c"/>
<circle cx="1017.65" cy="199.14" r="1.12" fill="#1c1c1c"/>
<circle cx="1027.3" cy="199.14" r="1.12" fill="#2b3ba8"/>
<circle cx="1036.94" cy="199.14" r="1.12" fill="#1c1c1c"/>
<circle cx="1046.59" cy="199.14" r="1.12" fill="#1c1c1c"/>
<circle cx="1056.23" cy="199.14" r="1.12" fill="#8a8a8a"/>
<circle cx="1065.88" cy="199.14" r="1.12" fill="#2b3ba8"/>
<circle cx="1075.53" cy="199.14" r="1.12" fill="#2b3ba8"/>
<circle cx="1085.17" cy="199.14" r="0.95" fill="#e6dc1e"/>
<circle cx="1094.82" cy="199.14" r="1.12" fill="#1c1c1c"/>
<circle cx="1104.46" cy="199.14" r="1.12" fill="#8a8a8a"/>
<circle cx="1114.11" cy="199.14" r="1.12" fill="#2b3ba8"/>
<circle cx="1123.75" cy="199.14" r="1.12" fill="#2b3ba8"/>
<circle cx="1133.39" cy="199.14" r="1.12" fill="#1c1c1c"/>
<circle cx="1143.04" cy="199.14" r="1.12" fill="#1c1c1c"/>
<circle cx="1152.68" cy="199.14" r="1.12" fill="#2b3ba8"/>
<circle cx="1162.33" cy="199.14" r="1.12" fill="#2b3ba8"/>
<circle cx="1171.97" cy="199.14" r="0.95" fill="#e6dc1e"/>
<circle cx="1181.62" cy="199.14" r="1.12" fill="#1c1c1c"/>
<circle cx="1191.26" cy="199.14" r="1.12" fill="#1c1c1c"/>
<circle cx="1200.91" cy="199.14" r="1.12" fill="#2b3ba8"/>
<circle cx="1210.55" cy="199.14" r="1.12" fill="#1c1c1c"/>
<circle cx="1220.2" cy="199.14" r="1.12" fill="#1c1c1c"/>
<circle cx="1229.85" cy="199.14" r="1.12" fill="#8a8a8a"/>
<circle cx="1239.49" cy="199.14" r="1.12" fill="#2b3ba8"/>
<circle cx="1249.13" cy="199.14" r="1.12" fill="#2b3ba8"/>
<circle cx="1258.78" cy="199.14" r="0.95" fill="#e6dc1e"/>
<circle cx="834.4" cy="207.56" r="0.95" fill="#8a8a8a"/>
<circle cx="844.04" cy="207.56" r="3.6" fill="#e6dc1e"/>
<circle cx="853.69" cy="207.56" r="3.6" fill="#f8a61e"/>
<circle cx="863.33" cy="207.56" r="0.95" fill="#2b3ba8"/>
<circle cx="872.98" cy="207.56" r="0.95" fill="#2b3ba8"/>
<circle cx="882.62" cy="207.56" r="0.95" fill="#2b3ba8"/>
<circle cx="892.27" cy="207.56" r="3.6" fill="#c4c030"/>
<circle cx="901.91" cy="207.56" r="3.6" fill="#e6dc1e"/>
<circle cx="911.56" cy="207.56" r="1.12" fill="#2b3ba8"/>
<circle cx="921.2" cy="207.56" r="0.95" fill="#8a8a8a"/>
<circle cx="930.85" cy="207.56" r="0.95" fill="#e6dc1e"/>
<circle cx="940.5" cy="207.56" r="0.95" fill="#f8a61e"/>
<circle cx="950.14" cy="207.56" r="1.12" fill="#2b3ba8"/>
<circle cx="959.78" cy="207.56" r="0.95" fill="#2b3ba8"/>
<circle cx="969.43" cy="207.56" r="0.95" fill="#2b3ba8"/>
<circle cx="979.07" cy="207.56" r="0.95" fill="#e6dc1e"/>
<circle cx="988.72" cy="207.56" r="0.95" fill="#e6dc1e"/>
<circle cx="998.37" cy="207.56" r="1.12" fill="#2b3ba8"/>
<circle cx="1008.01" cy="207.56" r="0.95" fill="#8a8a8a"/>
<circle cx="1017.65" cy="207.56" r="3.6" fill="#e6dc1e"/>
<circle cx="1027.3" cy="207.56" r="3.6" fill="#f8a61e"/>
<circle cx="1036.94" cy="207.56" r="1.12" fill="#2b3ba8"/>
<circle cx="1046.59" cy="207.56" r="1.12" fill="#2b3ba8"/>
<circle cx="1056.23" cy="207.56" r="1.12" fill="#2b3ba8"/>
<circle cx="1065.88" cy="207.56" r="3.6" fill="#c4c030"/>
<circle cx="1075.53" cy="207.56" r="3.6" fill="#e6dc1e"/>
<circle cx="1085.17" cy="207.56" r="0.95" fill="#2b3ba8"/>
<circle cx="1094.82" cy="207.56" r="0.95" fill="#8a8a8a"/>
<circle cx="1104.46" cy="207.56" r="0.95" fill="#e6dc1e"/>
<circle cx="1114.11" cy="207.56" r="0.95" fill="#f8a61e"/>
<circle cx="1123.75" cy="207.56" r="1.12" fill="#2b3ba8"/>
<circle cx="1133.39" cy="207.56" r="1.12" fill="#2b3ba8"/>
<circle cx="1143.04" cy="207.56" r="1.12" fill="#2b3ba8"/>
<circle cx="1152.68" cy="207.56" r="0.95" fill="#e6dc1e"/>
<circle cx="1162.33" cy="207.56" r="0.95" fill="#f8a61e"/>
<circle cx="1171.97" cy="207.56" r="1.12" fill="#2b3ba8"/>
<circle cx="1181.62" cy="207.56" r="0.95" fill="#8a8a8a"/>
<circle cx="1191.26" cy="207.56" r="3.6" fill="#e6dc1e"/>
<circle cx="1200.91" cy="207.56" r="3.6" fill="#f8a61e"/>
<circle cx="1210.55" cy="207.56" r="1.12" fill="#2b3ba8"/>
<circle cx="1220.2" cy="207.56" r="1.12" fill="#2b3ba8"/>
<circle cx="1229.85" cy="207.56" r="1.12" fill="#2b3ba8"/>
<circle cx="1239.49" cy="207.56" r="3.6" fill="#c4c030"/>
<circle cx="1249.13" cy="207.56" r="3.6" fill="#e6dc1e"/>
<circle cx="1258.78" cy="207.56" r="1.12" fill="#2b3ba8"/>
<circle cx="834.4" cy="215.98" r="1.12" fill="#1c1c1c"/>
<circle cx="844.04" cy="215.98" r="1.12" fill="#1c1c1c"/>
<circle cx="853.69" cy="215.98" r="1.12" fill="#1c1c1c"/>
<circle cx="863.33" cy="215.98" r="1.12" fill="#1c1c1c"/>
<circle cx="872.98" cy="215.98" r="1.12" fill="#1c1c1c"/>
<circle cx="882.62" cy="215.98" r="1.12" fill="#1c1c1c"/>
<circle cx="892.27" cy="215.98" r="3.9" fill="#2234a8"/>
<circle cx="901.91" cy="215.98" r="1.12" fill="#2b3ba8"/>
<circle cx="911.56" cy="215.98" r="3.9" fill="#2234a8"/>
<circle cx="921.2" cy="215.98" r="1.12" fill="#8a8a8a"/>
<circle cx="930.85" cy="215.98" r="1.12" fill="#8a8a8a"/>
<circle cx="940.5" cy="215.98" r="1.12" fill="#8a8a8a"/>
<circle cx="950.14" cy="215.98" r="1.12" fill="#8a8a8a"/>
<circle cx="959.78" cy="215.98" r="1.12" fill="#8a8a8a"/>
<circle cx="969.43" cy="215.98" r="1.12" fill="#8a8a8a"/>
<circle cx="979.07" cy="215.98" r="1.12" fill="#2b3ba8"/>
<circle cx="988.72" cy="215.98" r="1.12" fill="#1c1c1c"/>
<circle cx="998.37" cy="215.98" r="1.12" fill="#2b3ba8"/>
<circle cx="1008.01" cy="215.98" r="1.12" fill="#2b3ba8"/>
<circle cx="1017.65" cy="215.98" r="1.12" fill="#2b3ba8"/>
<circle cx="1027.3" cy="215.98" r="1.12" fill="#2b3ba8"/>
<circle cx="1036.94" cy="215.98" r="1.12" fill="#2b3ba8"/>
<circle cx="1046.59" cy="215.98" r="1.12" fill="#2b3ba8"/>
<circle cx="1056.23" cy="215.98" r="1.12" fill="#2b3ba8"/>
<circle cx="1065.88" cy="215.98" r="1.12" fill="#2b3ba8"/>
<circle cx="1075.53" cy="215.98" r="1.12" fill="#2b3ba8"/>
<circle cx="1085.17" cy="215.98" r="1.12" fill="#2b3ba8"/>
<circle cx="1094.82" cy="215.98" r="1.12" fill="#8a8a8a"/>
<circle cx="1104.46" cy="215.98" r="1.12" fill="#8a8a8a"/>
<circle cx="1114.11" cy="215.98" r="1.12" fill="#2b3ba8"/>
<circle cx="1123.75" cy="215.98" r="1.12" fill="#8a8a8a"/>
<circle cx="1133.39" cy="215.98" r="1.12" fill="#8a8a8a"/>
<circle cx="1143.04" cy="215.98" r="1.12" fill="#8a8a8a"/>
<circle cx="1152.68" cy="215.98" r="1.12" fill="#2b3ba8"/>
<circle cx="1162.33" cy="215.98" r="1.12" fill="#1c1c1c"/>
<circle cx="1171.97" cy="215.98" r="1.12" fill="#2b3ba8"/>
<circle cx="1181.62" cy="215.98" r="1.12" fill="#8a8a8a"/>
<circle cx="1191.26" cy="215.98" r="1.12" fill="#8a8a8a"/>
<circle cx="1200.91" cy="215.98" r="1.12" fill="#8a8a8a"/>
<circle cx="1210.55" cy="215.98" r="1.12" fill="#8a8a8a"/>
<circle cx="1220.2" cy="215.98" r="1.12" fill="#8a8a8a"/>
<circle cx="1229.85" cy="215.98" r="1.12" fill="#2b3ba8"/>
<circle cx="1239.49" cy="215.98" r="1.12" fill="#2b3ba8"/>
<circle cx="1249.13" cy="215.98" r="1.12" fill="#2b3ba8"/>
<circle cx="1258.78" cy="215.98" r="1.12" fill="#2b3ba8"/>
<circle cx="834.4" cy="224.4" r="1.12" fill="#2b3ba8"/>
<circle cx="844.04" cy="224.4" r="1.12" fill="#1c1c1c"/>
<circle cx="853.69" cy="224.4" r="1.12" fill="#1c1c1c"/>
<circle cx="863.33" cy="224.4" r="1.12" fill="#2b3ba8"/>
<circle cx="872.98" cy="224.4" r="1.12" fill="#2b3ba8"/>
<circle cx="882.62" cy="224.4" r="1.12" fill="#2b3ba8"/>
<circle cx="892.27" cy="224.4" r="1.12" fill="#1c1c1c"/>
<circle cx="901.91" cy="224.4" r="1.12" fill="#1c1c1c"/>
<circle cx="911.56" cy="224.4" r="1.12" fill="#2b3ba8"/>
<circle cx="921.2" cy="224.4" r="0.95" fill="#2b3ba8"/>
<circle cx="930.85" cy="224.4" r="1.12" fill="#1c1c1c"/>
<circle cx="940.5" cy="224.4" r="1.12" fill="#1c1c1c"/>
<circle cx="950.14" cy="224.4" r="1.12" fill="#2b3ba8"/>
<circle cx="959.78" cy="224.4" r="1.12" fill="#2b3ba8"/>
<circle cx="969.43" cy="224.4" r="1.12" fill="#2b3ba8"/>
<circle cx="979.07" cy="224.4" r="1.12" fill="#2b3ba8"/>
<circle cx="988.72" cy="224.4" r="1.12" fill="#1c1c1c"/>
<circle cx="998.37" cy="224.4" r="1.12" fill="#2b3ba8"/>
<circle cx="1008.01" cy="224.4" r="1.12" fill="#2b3ba8"/>
<circle cx="1017.65" cy="224.4" r="1.12" fill="#1c1c1c"/>
<circle cx="1027.3" cy="224.4" r="1.12" fill="#1c1c1c"/>
<circle cx="1036.94" cy="224.4" r="1.12" fill="#2b3ba8"/>
<circle cx="1046.59" cy="224.4" r="1.12" fill="#2b3ba8"/>
<circle cx="1056.23" cy="224.4" r="1.12" fill="#2b3ba8"/>
<circle cx="1065.88" cy="224.4" r="1.12" fill="#2b3ba8"/>
<circle cx="1075.53" cy="224.4" r="1.12" fill="#8a8a8a"/>
<circle cx="1085.17" cy="224.4" r="1.12" fill="#2b3ba8"/>
<circle cx="1094.82" cy="224.4" r="1.12" fill="#2b3ba8"/>
<circle cx="1104.46" cy="224.4" r="1.12" fill="#1c1c1c"/>
<circle cx="1114.11" cy="224.4" r="1.12" fill="#2b3ba8"/>
<circle cx="1123.75" cy="224.4" r="1.12" fill="#2b3ba8"/>
<circle cx="1133.39" cy="224.4" r="1.12" fill="#2b3ba8"/>
<circle cx="1143.04" cy="224.4" r="1.12" fill="#2b3ba8"/>
<circle cx="1152.68" cy="224.4" r="1.12" fill="#1c1c1c"/>
<circle cx="1162.33" cy="224.4" r="1.12" fill="#1c1c1c"/>
<circle cx="1171.97" cy="224.4" r="1.12" fill="#2b3ba8"/>
<circle cx="1181.62" cy="224.4" r="3.6" fill="#5a54c0"/>
<circle cx="1191.26" cy="224.4" r="1.12" fill="#1c1c1c"/>
<circle cx="1200.91" cy="224.4" r="1.12" fill="#2b3ba8"/>
<circle cx="1210.55" cy="224.4" r="3.6" fill="#3444b4"/>
<circle cx="1220.2" cy="224.4" r="3.1" fill="#2234a8"/>
<circle cx="1229.85" cy="224.4" r="3.6" fill="#3444b4"/>
<circle cx="1239.49" cy="224.4" r="1.12" fill="#2b3ba8"/>
<circle cx="1249.13" cy="224.4" r="1.12" fill="#1c1c1c"/>
<circle cx="1258.78" cy="224.4" r="3.6" fill="#3444b4"/>
<circle cx="834.4" cy="232.82" r="1.12" fill="#2b3ba8"/>
<circle cx="844.04" cy="232.82" r="1.12" fill="#2b3ba8"/>
<circle cx="853.69" cy="232.82" r="1.12" fill="#2b3ba8"/>
<circle cx="863.33" cy="232.82" r="1.12" fill="#2b3ba8"/>
<circle cx="872.98" cy="232.82" r="1.12" fill="#2b3ba8"/>
<circle cx="882.62" cy="232.82" r="1.12" fill="#2b3ba8"/>
<circle cx="892.27" cy="232.82" r="1.12" fill="#2b3ba8"/>
<circle cx="901.91" cy="232.82" r="1.12" fill="#2b3ba8"/>
<circle cx="911.56" cy="232.82" r="1.12" fill="#2b3ba8"/>
<circle cx="921.2" cy="232.82" r="1.12" fill="#2b3ba8"/>
<circle cx="930.85" cy="232.82" r="1.12" fill="#1c1c1c"/>
<circle cx="940.5" cy="232.82" r="1.12" fill="#1c1c1c"/>
<circle cx="950.14" cy="232.82" r="1.12" fill="#2b3ba8"/>
<circle cx="959.78" cy="232.82" r="1.12" fill="#2b3ba8"/>
<circle cx="969.43" cy="232.82" r="1.12" fill="#2b3ba8"/>
<circle cx="979.07" cy="232.82" r="1.12" fill="#1c1c1c"/>
<circle cx="988.72" cy="232.82" r="1.12" fill="#1c1c1c"/>
<circle cx="998.37" cy="232.82" r="1.12" fill="#2b3ba8"/>
<circle cx="1008.01" cy="232.82" r="1.12" fill="#2b3ba8"/>
<circle cx="1017.65" cy="232.82" r="1.12" fill="#2b3ba8"/>
<circle cx="1027.3" cy="232.82" r="1.12" fill="#2b3ba8"/>
<circle cx="1036.94" cy="232.82" r="1.12" fill="#2b3ba8"/>
<circle cx="1046.59" cy="232.82" r="1.12" fill="#2b3ba8"/>
<circle cx="1056.23" cy="232.82" r="1.12" fill="#2b3ba8"/>
<circle cx="1065.88" cy="232.82" r="1.12" fill="#2b3ba8"/>
<circle cx="1075.53" cy="232.82" r="1.12" fill="#2b3ba8"/>
<circle cx="1085.17" cy="232.82" r="1.12" fill="#2b3ba8"/>
<circle cx="1094.82" cy="232.82" r="1.12" fill="#2b3ba8"/>
<circle cx="1104.46" cy="232.82" r="1.12" fill="#2b3ba8"/>
<circle cx="1114.11" cy="232.82" r="1.12" fill="#2b3ba8"/>
<circle cx="1123.75" cy="232.82" r="1.12" fill="#2b3ba8"/>
<circle cx="1133.39" cy="232.82" r="1.12" fill="#2b3ba8"/>
<circle cx="1143.04" cy="232.82" r="1.12" fill="#2b3ba8"/>
<circle cx="1152.68" cy="232.82" r="1.12" fill="#1c1c1c"/>
<circle cx="1162.33" cy="232.82" r="1.12" fill="#2b3ba8"/>
<circle cx="1171.97" cy="232.82" r="1.12" fill="#2b3ba8"/>
<circle cx="1181.62" cy="232.82" r="1.12" fill="#2b3ba8"/>
<circle cx="1191.26" cy="232.82" r="1.12" fill="#1c1c1c"/>
<circle cx="1200.91" cy="232.82" r="1.12" fill="#1c1c1c"/>
<circle cx="1210.55" cy="232.82" r="1.12" fill="#2b3ba8"/>
<circle cx="1220.2" cy="232.82" r="1.12" fill="#2b3ba8"/>
<circle cx="1229.85" cy="232.82" r="1.12" fill="#2b3ba8"/>
<circle cx="1239.49" cy="232.82" r="1.12" fill="#2b3ba8"/>
<circle cx="1249.13" cy="232.82" r="1.12" fill="#2b3ba8"/>
<circle cx="1258.78" cy="232.82" r="1.12" fill="#2b3ba8"/>
<circle cx="834.4" cy="241.24" r="0.95" fill="#2b3ba8"/>
<circle cx="844.04" cy="241.24" r="0.95" fill="#2b3ba8"/>
<circle cx="853.69" cy="241.24" r="0.95" fill="#2b3ba8"/>
<circle cx="863.33" cy="241.24" r="1.12" fill="#2b3ba8"/>
<circle cx="872.98" cy="241.24" r="1.12" fill="#2b3ba8"/>
<circle cx="882.62" cy="241.24" r="1.12" fill="#2b3ba8"/>
<circle cx="892.27" cy="241.24" r="1.12" fill="#2b3ba8"/>
<circle cx="901.91" cy="241.24" r="0.95" fill="#2b3ba8"/>
<circle cx="911.56" cy="241.24" r="1.12" fill="#1c1c1c"/>
<circle cx="921.2" cy="241.24" r="3.6" fill="#6c6a9c"/>
<circle cx="930.85" cy="241.24" r="3.9" fill="#3444b4"/>
<circle cx="940.5" cy="241.24" r="3.9" fill="#5a54c0"/>
<circle cx="950.14" cy="241.24" r="3.9" fill="#3444b4"/>
<circle cx="959.78" cy="241.24" r="3.9" fill="#3444b4"/>
<circle cx="969.43" cy="241.24" r="3.9" fill="#5a54c0"/>
<circle cx="979.07" cy="241.24" r="1.4" fill="#2b3ba8"/>
<circle cx="988.72" cy="241.24" r="1.12" fill="#2b3ba8"/>
<circle cx="998.37" cy="241.24" r="1.12" fill="#2b3ba8"/>
<circle cx="1008.01" cy="241.24" r="3.6" fill="#6c6a9c"/>
<circle cx="1017.65" cy="241.24" r="3.1" fill="#3444b4"/>
<circle cx="1027.3" cy="241.24" r="3.9" fill="#3444b4"/>
<circle cx="1036.94" cy="241.24" r="2.6" fill="#3444b4"/>
<circle cx="1046.59" cy="241.24" r="1.12" fill="#2b3ba8"/>
<circle cx="1056.23" cy="241.24" r="3.6" fill="#5a54c0"/>
<circle cx="1065.88" cy="241.24" r="0.95" fill="#2b3ba8"/>
<circle cx="1075.53" cy="241.24" r="0.95" fill="#2b3ba8"/>
<circle cx="1085.17" cy="241.24" r="0.95" fill="#2b3ba8"/>
<circle cx="1094.82" cy="241.24" r="3.6" fill="#77776a"/>
<circle cx="1104.46" cy="241.24" r="3.6" fill="#5a54c0"/>
<circle cx="1114.11" cy="241.24" r="3.6" fill="#6c6a9c"/>
<circle cx="1123.75" cy="241.24" r="3.6" fill="#5a54c0"/>
<circle cx="1133.39" cy="241.24" r="3.6" fill="#5a54c0"/>
<circle cx="1143.04" cy="241.24" r="3.6" fill="#6c6a9c"/>
<circle cx="1152.68" cy="241.24" r="3.6" fill="#3444b4"/>
<circle cx="1162.33" cy="241.24" r="3.1" fill="#3444b4"/>
<circle cx="1171.97" cy="241.24" r="2.6" fill="#3444b4"/>
<circle cx="1181.62" cy="241.24" r="3.6" fill="#858a60"/>
<circle cx="1191.26" cy="241.24" r="3.6" fill="#5a54c0"/>
<circle cx="1200.91" cy="241.24" r="3.6" fill="#6c6a9c"/>
<circle cx="1210.55" cy="241.24" r="3.6" fill="#5a54c0"/>
<circle cx="1220.2" cy="241.24" r="3.6" fill="#5a54c0"/>
<circle cx="1229.85" cy="241.24" r="3.6" fill="#727278"/>
<circle cx="1239.49" cy="241.24" r="3.6" fill="#5a54c0"/>
<circle cx="1249.13" cy="241.24" r="3.1" fill="#3444b4"/>
<circle cx="1258.78" cy="241.24" r="3.1" fill="#3444b4"/>
<circle cx="834.4" cy="249.66" r="1.12" fill="#2b3ba8"/>
<circle cx="844.04" cy="249.66" r="1.12" fill="#2b3ba8"/>
<circle cx="853.69" cy="249.66" r="1.12" fill="#2b3ba8"/>
<circle cx="863.33" cy="249.66" r="1.12" fill="#2b3ba8"/>
<circle cx="872.98" cy="249.66" r="1.12" fill="#2b3ba8"/>
<circle cx="882.62" cy="249.66" r="1.12" fill="#2b3ba8"/>
<circle cx="892.27" cy="249.66" r="1.12" fill="#2b3ba8"/>
<circle cx="901.91" cy="249.66" r="1.12" fill="#2b3ba8"/>
<circle cx="911.56" cy="249.66" r="1.12" fill="#2b3ba8"/>
<circle cx="921.2" cy="249.66" r="1.12" fill="#2b3ba8"/>
<circle cx="930.85" cy="249.66" r="1.12" fill="#2b3ba8"/>
<circle cx="940.5" cy="249.66" r="1.12" fill="#2b3ba8"/>
<circle cx="950.14" cy="249.66" r="1.12" fill="#2b3ba8"/>
<circle cx="959.78" cy="249.66" r="1.12" fill="#2b3ba8"/>
<circle cx="969.43" cy="249.66" r="1.12" fill="#2b3ba8"/>
<circle cx="979.07" cy="249.66" r="1.12" fill="#2b3ba8"/>
<circle cx="988.72" cy="249.66" r="1.12" fill="#2b3ba8"/>
<circle cx="998.37" cy="249.66" r="1.12" fill="#2b3ba8"/>
<circle cx="1008.01" cy="249.66" r="1.12" fill="#2b3ba8"/>
<circle cx="1017.65" cy="249.66" r="1.12" fill="#2b3ba8"/>
<circle cx="1027.3" cy="249.66" r="1.12" fill="#2b3ba8"/>
<circle cx="1036.94" cy="249.66" r="1.12" fill="#2b3ba8"/>
<circle cx="1046.59" cy="249.66" r="1.12" fill="#2b3ba8"/>
<circle cx="1056.23" cy="249.66" r="1.12" fill="#2b3ba8"/>
<circle cx="1065.88" cy="249.66" r="1.12" fill="#2b3ba8"/>
<circle cx="1075.53" cy="249.66" r="1.12" fill="#2b3ba8"/>
<circle cx="1085.17" cy="249.66" r="1.12" fill="#2b3ba8"/>
<circle cx="1094.82" cy="249.66" r="1.12" fill="#2b3ba8"/>
<circle cx="1104.46" cy="249.66" r="3.6" fill="#c4c030"/>
<circle cx="1114.11" cy="249.66" r="2" fill="#c4c030"/>
<circle cx="1123.75" cy="249.66" r="3.6" fill="#c4c030"/>
<circle cx="1133.39" cy="249.66" r="3.6" fill="#c4c030"/>
<circle cx="1143.04" cy="249.66" r="0.95" fill="#8a8a8a"/>
<circle cx="1152.68" cy="249.66" r="3.6" fill="#e6dc1e"/>
<circle cx="1162.33" cy="249.66" r="3.6" fill="#e6dc1e"/>
<circle cx="1171.97" cy="249.66" r="1.12" fill="#2b3ba8"/>
<circle cx="1181.62" cy="249.66" r="1.12" fill="#2b3ba8"/>
<circle cx="1191.26" cy="249.66" r="0.95" fill="#a4a434"/>
<circle cx="1200.91" cy="249.66" r="0.95" fill="#8a8a8a"/>
<circle cx="1210.55" cy="249.66" r="0.95" fill="#a4a434"/>
<circle cx="1220.2" cy="249.66" r="0.95" fill="#a4a434"/>
<circle cx="1229.85" cy="249.66" r="1.12" fill="#2b3ba8"/>
<circle cx="1239.49" cy="249.66" r="0.95" fill="#a4a434"/>
<circle cx="1249.13" cy="249.66" r="0.95" fill="#e6dc1e"/>
<circle cx="1258.78" cy="249.66" r="1.12" fill="#2b3ba8"/>
<circle cx="834.4" cy="258.08" r="1.12" fill="#2b3ba8"/>
<circle cx="844.04" cy="258.08" r="1.12" fill="#2b3ba8"/>
<circle cx="853.69" cy="258.08" r="1.12" fill="#2b3ba8"/>
<circle cx="863.33" cy="258.08" r="3.1" fill="#2234a8"/>
<circle cx="872.98" cy="258.08" r="3.6" fill="#2234a8"/>
<circle cx="882.62" cy="258.08" r="1.12" fill="#1c1c1c"/>
<circle cx="892.27" cy="258.08" r="1.12" fill="#2b3ba8"/>
<circle cx="901.91" cy="258.08" r="1.12" fill="#2b3ba8"/>
<circle cx="911.56" cy="258.08" r="1.12" fill="#2b3ba8"/>
<circle cx="921.2" cy="258.08" r="1.12" fill="#2b3ba8"/>
<circle cx="930.85" cy="258.08" r="1.12" fill="#2b3ba8"/>
<circle cx="940.5" cy="258.08" r="1.12" fill="#2b3ba8"/>
<circle cx="950.14" cy="258.08" r="3.3" fill="#2234a8"/>
<circle cx="959.78" cy="258.08" r="3.6" fill="#2234a8"/>
<circle cx="969.43" cy="258.08" r="1.12" fill="#2b3ba8"/>
<circle cx="979.07" cy="258.08" r="1.12" fill="#2b3ba8"/>
<circle cx="988.72" cy="258.08" r="1.12" fill="#2b3ba8"/>
<circle cx="998.37" cy="258.08" r="1.12" fill="#2b3ba8"/>
<circle cx="1008.01" cy="258.08" r="1.12" fill="#2b3ba8"/>
<circle cx="1017.65" cy="258.08" r="1.12" fill="#2b3ba8"/>
<circle cx="1027.3" cy="258.08" r="1.12" fill="#2b3ba8"/>
<circle cx="1036.94" cy="258.08" r="3.9" fill="#2234a8"/>
<circle cx="1046.59" cy="258.08" r="3.9" fill="#3444b4"/>
<circle cx="1056.23" cy="258.08" r="1.12" fill="#2b3ba8"/>
<circle cx="1065.88" cy="258.08" r="1.12" fill="#2b3ba8"/>
<circle cx="1075.53" cy="258.08" r="1.12" fill="#2b3ba8"/>
<circle cx="1085.17" cy="258.08" r="1.12" fill="#2b3ba8"/>
<circle cx="1094.82" cy="258.08" r="1.12" fill="#2b3ba8"/>
<circle cx="1104.46" cy="258.08" r="1.12" fill="#2b3ba8"/>
<circle cx="1114.11" cy="258.08" r="1.12" fill="#2b3ba8"/>
<circle cx="1123.75" cy="258.08" r="3.9" fill="#2234a8"/>
<circle cx="1133.39" cy="258.08" r="3.9" fill="#2234a8"/>
<circle cx="1143.04" cy="258.08" r="1.12" fill="#2b3ba8"/>
<circle cx="1152.68" cy="258.08" r="1.12" fill="#2b3ba8"/>
<circle cx="1162.33" cy="258.08" r="1.12" fill="#2b3ba8"/>
<circle cx="1171.97" cy="258.08" r="1.12" fill="#2b3ba8"/>
<circle cx="1181.62" cy="258.08" r="1.12" fill="#2b3ba8"/>
<circle cx="1191.26" cy="258.08" r="1.12" fill="#1c1c1c"/>
<circle cx="1200.91" cy="258.08" r="1.12" fill="#1c1c1c"/>
<circle cx="1210.55" cy="258.08" r="1.12" fill="#1c1c1c"/>
<circle cx="1220.2" cy="258.08" r="1.12" fill="#2b3ba8"/>
<circle cx="1229.85" cy="258.08" r="1.12" fill="#2b3ba8"/>
<circle cx="1239.49" cy="258.08" r="1.12" fill="#2b3ba8"/>
<circle cx="1249.13" cy="258.08" r="1.12" fill="#1c1c1c"/>
<circle cx="1258.78" cy="258.08" r="1.12" fill="#2b3ba8"/>
<line x1="824.4" y1="56" x2="827.3" y2="56" stroke="#555" stroke-width="1"/>
<text transform="translate(820.4,58.5) scale(0.945,1)" text-anchor="end" font-family="Liberation Sans" font-size="8.3" fill="#000" stroke="#000" stroke-width="0.3">XCR1<tspan dy="-1">_</tspan><tspan dy="1">XCL1</tspan></text>
<line x1="824.4" y1="64.42" x2="827.3" y2="64.42" stroke="#555" stroke-width="1"/>
<text transform="translate(820.4,66.92) scale(0.945,1)" text-anchor="end" font-family="Liberation Sans" font-size="8.3" fill="#000" stroke="#000" stroke-width="0.3">XCR1<tspan dy="-1">_</tspan><tspan dy="1">XCL2</tspan></text>
<line x1="824.4" y1="72.84" x2="827.3" y2="72.84" stroke="#555" stroke-width="1"/>
<text transform="translate(820.4,75.34) scale(0.945,1)" text-anchor="end" font-family="Liberation Sans" font-size="8.3" fill="#000" stroke="#000" stroke-width="0.3">EPHB2<tspan dy="-1">_</tspan><tspan dy="1">EFNA5</tspan></text>
<line x1="824.4" y1="81.26" x2="827.3" y2="81.26" stroke="#555" stroke-width="1"/>
<text transform="translate(820.4,83.76) scale(0.945,1)" text-anchor="end" font-family="Liberation Sans" font-size="8.3" fill="#000" stroke="#000" stroke-width="0.3">CSF1R<tspan dy="-1">_</tspan><tspan dy="1">CSF1</tspan></text>
<line x1="824.4" y1="89.68" x2="827.3" y2="89.68" stroke="#555" stroke-width="1"/>
<text transform="translate(820.4,92.18) scale(0.945,1)" text-anchor="end" font-family="Liberation Sans" font-size="8.3" fill="#000" stroke="#000" stroke-width="0.3">CCR1<tspan dy="-1">_</tspan><tspan dy="1">CCL5</tspan></text>
<line x1="824.4" y1="98.1" x2="827.3" y2="98.1" stroke="#555" stroke-width="1"/>
<text transform="translate(820.4,100.6) scale(0.945,1)" text-anchor="end" font-family="Liberation Sans" font-size="8.3" fill="#000" stroke="#000" stroke-width="0.3">PLXNB1<tspan dy="-1">_</tspan><tspan dy="1">SEMA4D</tspan></text>
<line x1="824.4" y1="106.52" x2="827.3" y2="106.52" stroke="#555" stroke-width="1"/>
<text transform="translate(820.4,109.02) scale(0.945,1)" text-anchor="end" font-family="Liberation Sans" font-size="8.3" fill="#000" stroke="#000" stroke-width="0.3">FGFR1<tspan dy="-1">_</tspan><tspan dy="1">NCAM1</tspan></text>
<line x1="824.4" y1="114.94" x2="827.3" y2="114.94" stroke="#555" stroke-width="1"/>
<text transform="translate(820.4,117.44) scale(0.945,1)" text-anchor="end" font-family="Liberation Sans" font-size="8.3" fill="#000" stroke="#000" stroke-width="0.3">CXCL12<tspan dy="-1">_</tspan><tspan dy="1">CXCR4</tspan></text>
<line x1="824.4" y1="123.36" x2="827.3" y2="123.36" stroke="#555" stroke-width="1"/>
<text transform="translate(820.4,125.86) scale(0.945,1)" text-anchor="end" font-family="Liberation Sans" font-size="8.3" fill="#000" stroke="#000" stroke-width="0.3">FLT1<tspan dy="-1">_</tspan><tspan dy="1">VEGFB</tspan></text>
<line x1="824.4" y1="131.78" x2="827.3" y2="131.78" stroke="#555" stroke-width="1"/>
<text transform="translate(820.4,134.28) scale(0.945,1)" text-anchor="end" font-family="Liberation Sans" font-size="8.3" fill="#000" stroke="#000" stroke-width="0.3">FLT1<tspan dy="-1">_</tspan><tspan dy="1">VEGFA</tspan></text>
<line x1="824.4" y1="140.2" x2="827.3" y2="140.2" stroke="#555" stroke-width="1"/>
<text transform="translate(820.4,142.7) scale(0.945,1)" text-anchor="end" font-family="Liberation Sans" font-size="8.3" fill="#000" stroke="#000" stroke-width="0.3">KDR<tspan dy="-1">_</tspan><tspan dy="1">VEGFA</tspan></text>
<line x1="824.4" y1="148.62" x2="827.3" y2="148.62" stroke="#555" stroke-width="1"/>
<text transform="translate(820.4,151.12) scale(0.945,1)" text-anchor="end" font-family="Liberation Sans" font-size="8.3" fill="#000" stroke="#000" stroke-width="0.3">EGFR<tspan dy="-1">_</tspan><tspan dy="1">AREG</tspan></text>
<line x1="824.4" y1="157.04" x2="827.3" y2="157.04" stroke="#555" stroke-width="1"/>
<text transform="translate(820.4,159.54) scale(0.945,1)" text-anchor="end" font-family="Liberation Sans" font-size="8.3" fill="#000" stroke="#000" stroke-width="0.3">OSMR<tspan dy="-1">_</tspan><tspan dy="1">OSM</tspan></text>
<line x1="824.4" y1="165.46" x2="827.3" y2="165.46" stroke="#555" stroke-width="1"/>
<text transform="translate(820.4,167.96) scale(0.945,1)" text-anchor="end" font-family="Liberation Sans" font-size="8.3" fill="#000" stroke="#000" stroke-width="0.3">HLA-G<tspan dy="-1">_</tspan><tspan dy="1">LILRB1</tspan></text>
<line x1="824.4" y1="173.88" x2="827.3" y2="173.88" stroke="#555" stroke-width="1"/>
<text transform="translate(820.4,176.38) scale(0.945,1)" text-anchor="end" font-family="Liberation Sans" font-size="8.3" fill="#000" stroke="#000" stroke-width="0.3">ACKR2<tspan dy="-1">_</tspan><tspan dy="1">CCL5</tspan></text>
<line x1="824.4" y1="182.3" x2="827.3" y2="182.3" stroke="#555" stroke-width="1"/>
<text transform="translate(820.4,184.8) scale(0.945,1)" text-anchor="end" font-family="Liberation Sans" font-size="8.3" fill="#000" stroke="#000" stroke-width="0.3">ACKR2<tspan dy="-1">_</tspan><tspan dy="1">CCL3</tspan></text>
<line x1="824.4" y1="190.72" x2="827.3" y2="190.72" stroke="#555" stroke-width="1"/>
<text transform="translate(820.4,193.22) scale(0.945,1)" text-anchor="end" font-family="Liberation Sans" font-size="8.3" fill="#000" stroke="#000" stroke-width="0.3">ACKR2<tspan dy="-1">_</tspan><tspan dy="1">CCL4</tspan></text>
<line x1="824.4" y1="199.14" x2="827.3" y2="199.14" stroke="#555" stroke-width="1"/>
<text transform="translate(820.4,201.64) scale(0.945,1)" text-anchor="end" font-family="Liberation Sans" font-size="8.3" fill="#000" stroke="#000" stroke-width="0.3">PVR<tspan dy="-1">_</tspan><tspan dy="1">TIGIT</tspan></text>
<line x1="824.4" y1="207.56" x2="827.3" y2="207.56" stroke="#555" stroke-width="1"/>
<text transform="translate(820.4,210.06) scale(0.945,1)" text-anchor="end" font-family="Liberation Sans" font-size="8.3" fill="#000" stroke="#000" stroke-width="0.3">CLEC2D<tspan dy="-1">_</tspan><tspan dy="1">KLRB1</tspan></text>
<line x1="824.4" y1="215.98" x2="827.3" y2="215.98" stroke="#555" stroke-width="1"/>
<text transform="translate(820.4,218.48) scale(0.945,1)" text-anchor="end" font-family="Liberation Sans" font-size="8.3" fill="#000" stroke="#000" stroke-width="0.3">CD274<tspan dy="-1">_</tspan><tspan dy="1">PDCD1</tspan></text>
<line x1="824.4" y1="224.4" x2="827.3" y2="224.4" stroke="#555" stroke-width="1"/>
<text transform="translate(820.4,226.9) scale(0.945,1)" text-anchor="end" font-family="Liberation Sans" font-size="8.3" fill="#000" stroke="#000" stroke-width="0.3">ADORA2B<tspan dy="-1">_</tspan><tspan dy="1">ENTPD1</tspan></text>
<line x1="824.4" y1="232.82" x2="827.3" y2="232.82" stroke="#555" stroke-width="1"/>
<text transform="translate(820.4,235.32) scale(0.945,1)" text-anchor="end" font-family="Liberation Sans" font-size="8.3" fill="#000" stroke="#000" stroke-width="0.3">ADORA3<tspan dy="-1">_</tspan><tspan dy="1">ENTPD1</tspan></text>
<line x1="824.4" y1="241.24" x2="827.3" y2="241.24" stroke="#555" stroke-width="1"/>
<text transform="translate(820.4,243.74) scale(0.945,1)" text-anchor="end" font-family="Liberation Sans" font-size="8.3" fill="#000" stroke="#000" stroke-width="0.3">LGALS9<tspan dy="-1">_</tspan><tspan dy="1">HAVCR2</tspan></text>
<line x1="824.4" y1="249.66" x2="827.3" y2="249.66" stroke="#555" stroke-width="1"/>
<text transform="translate(820.4,252.16) scale(0.945,1)" text-anchor="end" font-family="Liberation Sans" font-size="8.3" fill="#000" stroke="#000" stroke-width="0.3">FPR1<tspan dy="-1">_</tspan><tspan dy="1">ANXA1</tspan></text>
<line x1="824.4" y1="258.08" x2="827.3" y2="258.08" stroke="#555" stroke-width="1"/>
<text transform="translate(820.4,260.58) scale(0.945,1)" text-anchor="end" font-family="Liberation Sans" font-size="8.3" fill="#000" stroke="#000" stroke-width="0.3">IL10 receptor<tspan dy="-1">_</tspan><tspan dy="1">IL10</tspan></text>
<line x1="834.4" y1="264" x2="834.4" y2="267.7" stroke="#8a8a8a" stroke-width="1"/>
<text transform="translate(837.3,273) rotate(-90) scale(0.92,1)" text-anchor="end" font-family="Liberation Sans" font-size="8.3" fill="#000" stroke="#000" stroke-width="0.26">EVTIdNK1</text>
<line x1="844.04" y1="264" x2="844.04" y2="267.7" stroke="#8a8a8a" stroke-width="1"/>
<text transform="translate(846.94,273) rotate(-90) scale(0.92,1)" text-anchor="end" font-family="Liberation Sans" font-size="8.3" fill="#000" stroke="#000" stroke-width="0.26">EVTIdNK2</text>
<line x1="853.69" y1="264" x2="853.69" y2="267.7" stroke="#8a8a8a" stroke-width="1"/>
<text transform="translate(856.59,273) rotate(-90) scale(0.92,1)" text-anchor="end" font-family="Liberation Sans" font-size="8.3" fill="#000" stroke="#000" stroke-width="0.26">EVTIdNK3</text>
<line x1="863.33" y1="264" x2="863.33" y2="267.7" stroke="#8a8a8a" stroke-width="1"/>
<text transform="translate(866.23,273) rotate(-90) scale(0.92,1)" text-anchor="end" font-family="Liberation Sans" font-size="8.3" fill="#000" stroke="#000" stroke-width="0.26">EVTIdMac1</text>
<line x1="872.98" y1="264" x2="872.98" y2="267.7" stroke="#8a8a8a" stroke-width="1"/>
<text transform="translate(875.88,273) rotate(-90) scale(0.92,1)" text-anchor="end" font-family="Liberation Sans" font-size="8.3" fill="#000" stroke="#000" stroke-width="0.26">EVTIdMac2</text>
<line x1="882.62" y1="264" x2="882.62" y2="267.7" stroke="#8a8a8a" stroke-width="1"/>
<text transform="translate(885.52,273) rotate(-90) scale(0.92,1)" text-anchor="end" font-family="Liberation Sans" font-size="8.3" fill="#111" stroke="#111" stroke-width="0.2">EVTIDC1</text>
<line x1="892.27" y1="264" x2="892.27" y2="267.7" stroke="#8a8a8a" stroke-width="1"/>
<text transform="translate(895.17,273) rotate(-90) scale(0.92,1)" text-anchor="end" font-family="Liberation Sans" font-size="8.3" fill="#111" stroke="#111" stroke-width="0.2">EVTICD8</text>
<line x1="901.91" y1="264" x2="901.91" y2="267.7" stroke="#8a8a8a" stroke-width="1"/>
<text transform="translate(904.81,273) rotate(-90) scale(0.92,1)" text-anchor="end" font-family="Liberation Sans" font-size="8.3" fill="#111" stroke="#111" stroke-width="0.2">EVTICD4</text>
<line x1="911.56" y1="264" x2="911.56" y2="267.7" stroke="#8a8a8a" stroke-width="1"/>
<text transform="translate(914.46,273) rotate(-90) scale(0.92,1)" text-anchor="end" font-family="Liberation Sans" font-size="8.3" fill="#111" stroke="#111" stroke-width="0.2">EVTIT<tspan font-size="5.5" dy="1.8">reg</tspan></text>
<line x1="921.2" y1="264" x2="921.2" y2="267.7" stroke="#8a8a8a" stroke-width="1"/>
<text transform="translate(924.1,273) rotate(-90) scale(0.92,1)" text-anchor="end" font-family="Liberation Sans" font-size="8.3" fill="#111" stroke="#111" stroke-width="0.2">EndoIdNK1</text>
<line x1="930.85" y1="264" x2="930.85" y2="267.7" stroke="#8a8a8a" stroke-width="1"/>
<text transform="translate(933.75,273) rotate(-90) scale(0.92,1)" text-anchor="end" font-family="Liberation Sans" font-size="8.3" fill="#111" stroke="#111" stroke-width="0.2">EndoIdNK2</text>
<line x1="940.5" y1="264" x2="940.5" y2="267.7" stroke="#8a8a8a" stroke-width="1"/>
<text transform="translate(943.39,273) rotate(-90) scale(0.92,1)" text-anchor="end" font-family="Liberation Sans" font-size="8.3" fill="#111" stroke="#111" stroke-width="0.2">EndoIdNK3</text>
<line x1="950.14" y1="264" x2="950.14" y2="267.7" stroke="#8a8a8a" stroke-width="1"/>
<text transform="translate(953.04,273) rotate(-90) scale(0.92,1)" text-anchor="end" font-family="Liberation Sans" font-size="8.3" fill="#000" stroke="#000" stroke-width="0.26">EndoIdMac1</text>
<line x1="959.78" y1="264" x2="959.78" y2="267.7" stroke="#8a8a8a" stroke-width="1"/>
<text transform="translate(962.68,273) rotate(-90) scale(0.92,1)" text-anchor="end" font-family="Liberation Sans" font-size="8.3" fill="#000" stroke="#000" stroke-width="0.26">EndoIdMac2</text>
<line x1="969.43" y1="264" x2="969.43" y2="267.7" stroke="#8a8a8a" stroke-width="1"/>
<text transform="translate(972.33,273) rotate(-90) scale(0.92,1)" text-anchor="end" font-family="Liberation Sans" font-size="8.3" fill="#262626" stroke="#262626" stroke-width="0.13">EndoIDC1</text>
<line x1="979.07" y1="264" x2="979.07" y2="267.7" stroke="#8a8a8a" stroke-width="1"/>
<text transform="translate(981.97,273) rotate(-90) scale(0.92,1)" text-anchor="end" font-family="Liberation Sans" font-size="8.3" fill="#262626" stroke="#262626" stroke-width="0.13">EndoICD8</text>
<line x1="988.72" y1="264" x2="988.72" y2="267.7" stroke="#8a8a8a" stroke-width="1"/>
<text transform="translate(991.62,273) rotate(-90) scale(0.92,1)" text-anchor="end" font-family="Liberation Sans" font-size="8.3" fill="#262626" stroke="#262626" stroke-width="0.13">EndoICD4</text>
<line x1="998.37" y1="264" x2="998.37" y2="267.7" stroke="#8a8a8a" stroke-width="1"/>
<text transform="translate(1001.26,273) rotate(-90) scale(0.92,1)" text-anchor="end" font-family="Liberation Sans" font-size="8.3" fill="#111" stroke="#111" stroke-width="0.2">EndoIT<tspan font-size="5.5" dy="1.8">reg</tspan></text>
<line x1="1008.01" y1="264" x2="1008.01" y2="267.7" stroke="#8a8a8a" stroke-width="1"/>
<text transform="translate(1010.91,273) rotate(-90) scale(0.92,1)" text-anchor="end" font-family="Liberation Sans" font-size="8.3" fill="#262626" stroke="#262626" stroke-width="0.13">dS2IdNK1</text>
<line x1="1017.65" y1="264" x2="1017.65" y2="267.7" stroke="#8a8a8a" stroke-width="1"/>
<text transform="translate(1020.55,273) rotate(-90) scale(0.92,1)" text-anchor="end" font-family="Liberation Sans" font-size="8.3" fill="#262626" stroke="#262626" stroke-width="0.13">dS2IdNK2</text>
<line x1="1027.3" y1="264" x2="1027.3" y2="267.7" stroke="#8a8a8a" stroke-width="1"/>
<text transform="translate(1030.2,273) rotate(-90) scale(0.92,1)" text-anchor="end" font-family="Liberation Sans" font-size="8.3" fill="#262626" stroke="#262626" stroke-width="0.13">dS2IdNK3</text>
<line x1="1036.94" y1="264" x2="1036.94" y2="267.7" stroke="#8a8a8a" stroke-width="1"/>
<text transform="translate(1039.85,273) rotate(-90) scale(0.92,1)" text-anchor="end" font-family="Liberation Sans" font-size="8.3" fill="#111" stroke="#111" stroke-width="0.2">dS2IdMac1</text>
<line x1="1046.59" y1="264" x2="1046.59" y2="267.7" stroke="#8a8a8a" stroke-width="1"/>
<text transform="translate(1049.49,273) rotate(-90) scale(0.92,1)" text-anchor="end" font-family="Liberation Sans" font-size="8.3" fill="#111" stroke="#111" stroke-width="0.2">dS2IdMac2</text>
<line x1="1056.23" y1="264" x2="1056.23" y2="267.7" stroke="#8a8a8a" stroke-width="1"/>
<text transform="translate(1059.13,273) rotate(-90) scale(0.92,1)" text-anchor="end" font-family="Liberation Sans" font-size="8.3" fill="#262626" stroke="#262626" stroke-width="0.13">dS2IDC1</text>
<line x1="1065.88" y1="264" x2="1065.88" y2="267.7" stroke="#8a8a8a" stroke-width="1"/>
<text transform="translate(1068.78,273) rotate(-90) scale(0.92,1)" text-anchor="end" font-family="Liberation Sans" font-size="8.3" fill="#262626" stroke="#262626" stroke-width="0.13">dS2ICD8</text>
<line x1="1075.53" y1="264" x2="1075.53" y2="267.7" stroke="#8a8a8a" stroke-width="1"/>
<text transform="translate(1078.43,273) rotate(-90) scale(0.92,1)" text-anchor="end" font-family="Liberation Sans" font-size="8.3" fill="#262626" stroke="#262626" stroke-width="0.13">dS2ICD4</text>
<line x1="1085.17" y1="264" x2="1085.17" y2="267.7" stroke="#8a8a8a" stroke-width="1"/>
<text transform="translate(1088.07,273) rotate(-90) scale(0.92,1)" text-anchor="end" font-family="Liberation Sans" font-size="8.3" fill="#262626" stroke="#262626" stroke-width="0.13">dS2IT<tspan font-size="5.5" dy="1.8">reg</tspan></text>
<line x1="1094.82" y1="264" x2="1094.82" y2="267.7" stroke="#8a8a8a" stroke-width="1"/>
<text transform="translate(1097.72,273) rotate(-90) scale(0.92,1)" text-anchor="end" font-family="Liberation Sans" font-size="8.3" fill="#000" stroke="#000" stroke-width="0.26">dMac2IdNK1</text>
<line x1="1104.46" y1="264" x2="1104.46" y2="267.7" stroke="#8a8a8a" stroke-width="1"/>
<text transform="translate(1107.36,273) rotate(-90) scale(0.92,1)" text-anchor="end" font-family="Liberation Sans" font-size="8.3" fill="#000" stroke="#000" stroke-width="0.26">dMac2IdNK2</text>
<line x1="1114.11" y1="264" x2="1114.11" y2="267.7" stroke="#8a8a8a" stroke-width="1"/>
<text transform="translate(1117.01,273) rotate(-90) scale(0.92,1)" text-anchor="end" font-family="Liberation Sans" font-size="8.3" fill="#000" stroke="#000" stroke-width="0.26">dMac2IdNK3</text>
<line x1="1123.75" y1="264" x2="1123.75" y2="267.7" stroke="#8a8a8a" stroke-width="1"/>
<text transform="translate(1126.65,273) rotate(-90) scale(0.92,1)" text-anchor="end" font-family="Liberation Sans" font-size="8.3" fill="#262626" stroke="#262626" stroke-width="0.13">dMac2IdMac1</text>
<line x1="1133.39" y1="264" x2="1133.39" y2="267.7" stroke="#8a8a8a" stroke-width="1"/>
<text transform="translate(1136.3,273) rotate(-90) scale(0.92,1)" text-anchor="end" font-family="Liberation Sans" font-size="8.3" fill="#262626" stroke="#262626" stroke-width="0.13">dMac2IdMac2</text>
<line x1="1143.04" y1="264" x2="1143.04" y2="267.7" stroke="#8a8a8a" stroke-width="1"/>
<text transform="translate(1145.94,273) rotate(-90) scale(0.92,1)" text-anchor="end" font-family="Liberation Sans" font-size="8.3" fill="#111" stroke="#111" stroke-width="0.2">dMac2IDC1</text>
<line x1="1152.68" y1="264" x2="1152.68" y2="267.7" stroke="#8a8a8a" stroke-width="1"/>
<text transform="translate(1155.59,273) rotate(-90) scale(0.92,1)" text-anchor="end" font-family="Liberation Sans" font-size="8.3" fill="#111" stroke="#111" stroke-width="0.2">dMac2ICD8</text>
<line x1="1162.33" y1="264" x2="1162.33" y2="267.7" stroke="#8a8a8a" stroke-width="1"/>
<text transform="translate(1165.23,273) rotate(-90) scale(0.92,1)" text-anchor="end" font-family="Liberation Sans" font-size="8.3" fill="#111" stroke="#111" stroke-width="0.2">dMac2ICD4</text>
<line x1="1171.97" y1="264" x2="1171.97" y2="267.7" stroke="#8a8a8a" stroke-width="1"/>
<text transform="translate(1174.88,273) rotate(-90) scale(0.92,1)" text-anchor="end" font-family="Liberation Sans" font-size="8.3" fill="#111" stroke="#111" stroke-width="0.2">dMac2IT<tspan font-size="5.5" dy="1.8">reg</tspan></text>
<line x1="1181.62" y1="264" x2="1181.62" y2="267.7" stroke="#8a8a8a" stroke-width="1"/>
<text transform="translate(1184.52,273) rotate(-90) scale(0.92,1)" text-anchor="end" font-family="Liberation Sans" font-size="8.3" fill="#111" stroke="#111" stroke-width="0.2">DC1IdNK1</text>
<line x1="1191.26" y1="264" x2="1191.26" y2="267.7" stroke="#8a8a8a" stroke-width="1"/>
<text transform="translate(1194.16,273) rotate(-90) scale(0.92,1)" text-anchor="end" font-family="Liberation Sans" font-size="8.3" fill="#111" stroke="#111" stroke-width="0.2">DC1IdNK2</text>
<line x1="1200.91" y1="264" x2="1200.91" y2="267.7" stroke="#8a8a8a" stroke-width="1"/>
<text transform="translate(1203.81,273) rotate(-90) scale(0.92,1)" text-anchor="end" font-family="Liberation Sans" font-size="8.3" fill="#111" stroke="#111" stroke-width="0.2">DC1IdNK3</text>
<line x1="1210.55" y1="264" x2="1210.55" y2="267.7" stroke="#8a8a8a" stroke-width="1"/>
<text transform="translate(1213.45,273) rotate(-90) scale(0.92,1)" text-anchor="end" font-family="Liberation Sans" font-size="8.3" fill="#000" stroke="#000" stroke-width="0.26">DC1IdMac1</text>
<line x1="1220.2" y1="264" x2="1220.2" y2="267.7" stroke="#8a8a8a" stroke-width="1"/>
<text transform="translate(1223.1,273) rotate(-90) scale(0.92,1)" text-anchor="end" font-family="Liberation Sans" font-size="8.3" fill="#000" stroke="#000" stroke-width="0.26">DC1IdMac2</text>
<line x1="1229.85" y1="264" x2="1229.85" y2="267.7" stroke="#8a8a8a" stroke-width="1"/>
<text transform="translate(1232.75,273) rotate(-90) scale(0.92,1)" text-anchor="end" font-family="Liberation Sans" font-size="8.3" fill="#000" stroke="#000" stroke-width="0.26">DC1IDC1</text>
<line x1="1239.49" y1="264" x2="1239.49" y2="267.7" stroke="#8a8a8a" stroke-width="1"/>
<text transform="translate(1242.39,273) rotate(-90) scale(0.92,1)" text-anchor="end" font-family="Liberation Sans" font-size="8.3" fill="#000" stroke="#000" stroke-width="0.26">DC1ICD8</text>
<line x1="1249.13" y1="264" x2="1249.13" y2="267.7" stroke="#8a8a8a" stroke-width="1"/>
<text transform="translate(1252.04,273) rotate(-90) scale(0.92,1)" text-anchor="end" font-family="Liberation Sans" font-size="8.3" fill="#000" stroke="#000" stroke-width="0.26">DC1ICD4</text>
<line x1="1258.78" y1="264" x2="1258.78" y2="267.7" stroke="#8a8a8a" stroke-width="1"/>
<text transform="translate(1261.68,273) rotate(-90) scale(0.92,1)" text-anchor="end" font-family="Liberation Sans" font-size="8.3" fill="#000" stroke="#000" stroke-width="0.26">DC1IT<tspan font-size="5.5" dy="1.8">reg</tspan></text>
</g>
</svg>
</body></html>
